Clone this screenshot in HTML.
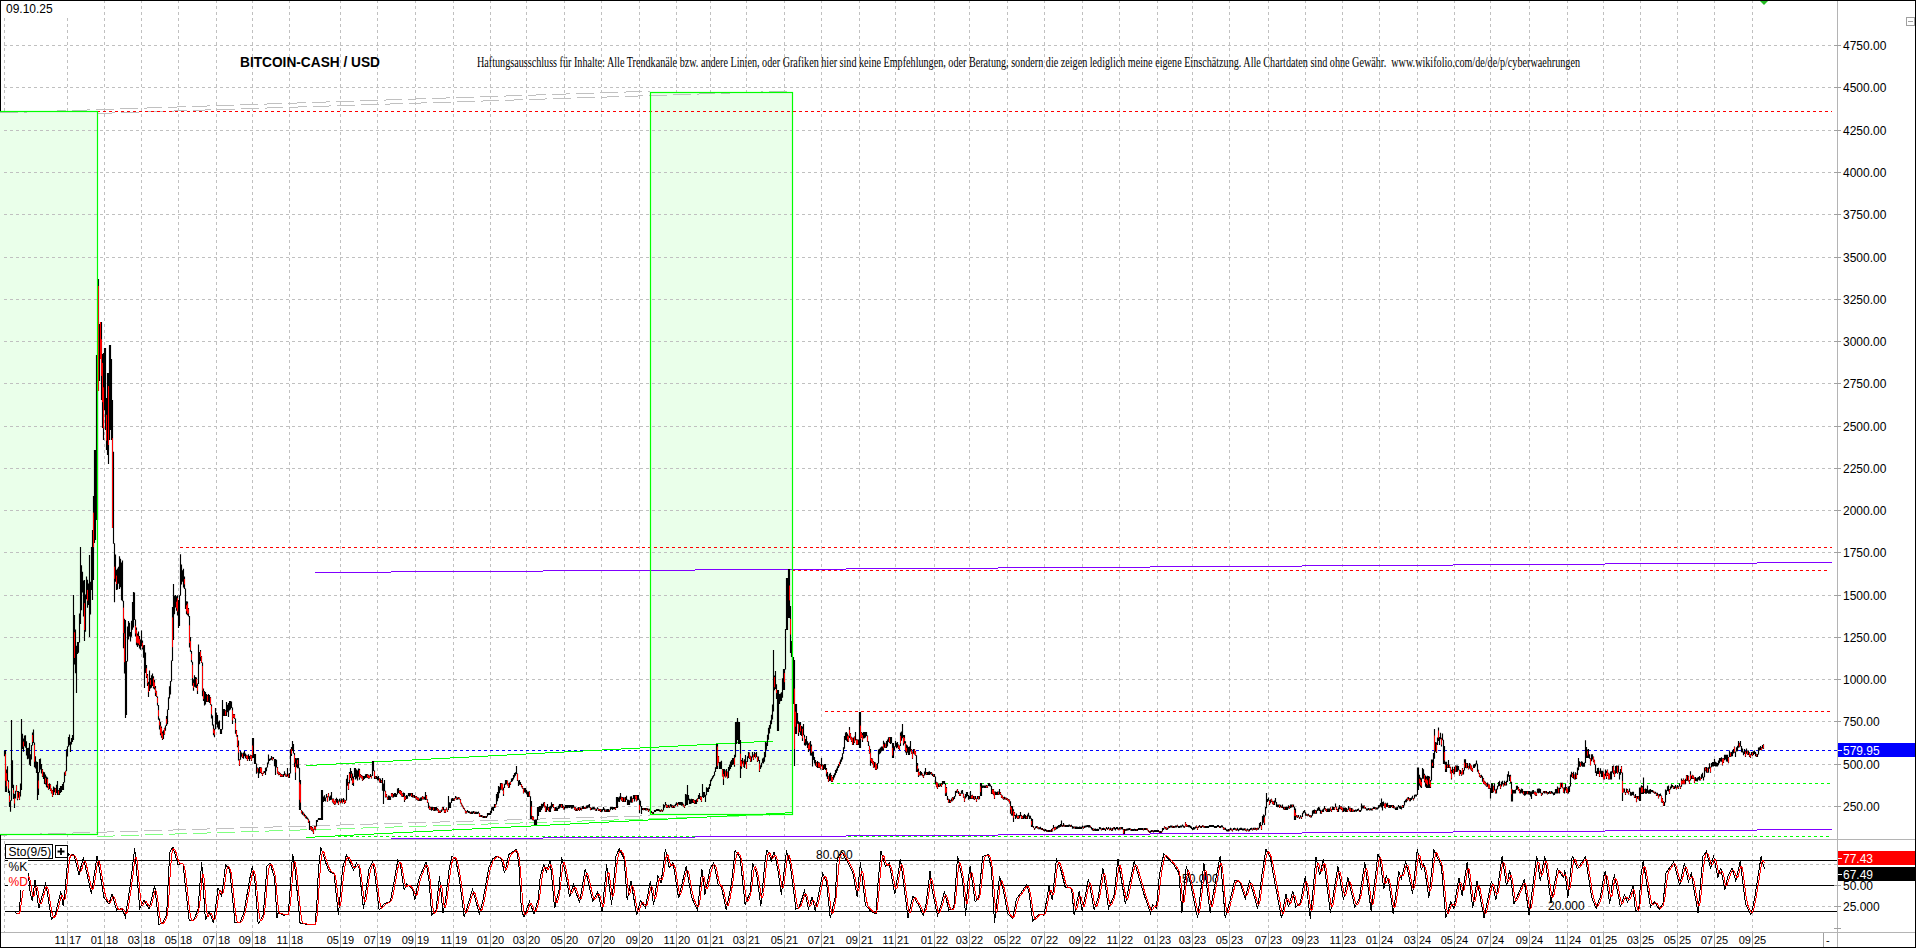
<!DOCTYPE html><html><head><meta charset="utf-8"><style>html,body{margin:0;padding:0;background:#fff;overflow:hidden}svg{display:block}text{font-family:"Liberation Sans",sans-serif}</style></head><body>
<svg width="1916" height="948" viewBox="0 0 1916 948">
<rect x="0" y="0" width="1916" height="948" fill="#fff"/>
<rect x="0.5" y="0.5" width="1915" height="947" fill="none" stroke="#000" stroke-width="1"/>
<path d="M4.5,18V839 M67.5,18V839 M104.5,0V839 M141.5,0V839 M178.5,0V839 M216.5,0V839 M252.5,0V839 M289.5,0V839 M340.5,0V839 M377.5,0V839 M415.5,0V839 M453.5,0V839 M490.5,0V839 M526.5,0V839 M564.5,0V839 M601.5,0V839 M639.5,0V839 M676.5,0V839 M710.5,0V839 M746.5,0V839 M784.5,0V839 M821.5,0V839 M859.5,0V839 M895.5,0V839 M934.5,0V839 M969.5,0V839 M1007.5,0V839 M1044.5,0V839 M1082.5,0V839 M1119.5,0V839 M1157.5,0V839 M1192.5,0V839 M1229.5,0V839 M1268.5,0V839 M1305.5,0V839 M1342.5,0V839 M1379.5,0V839 M1417.5,0V839 M1454.5,0V839 M1490.5,0V839 M1529.5,0V839 M1567.5,0V839 M1603.5,0V839 M1640.5,0V839 M1677.5,0V839 M1714.5,0V839 M1752.5,0V839" stroke="#c0c0c0" stroke-width="1" stroke-dasharray="3,3" fill="none" shape-rendering="crispEdges"/>
<rect x="0" y="111" width="97" height="723" fill="#eaffea"/>
<rect x="650" y="92" width="142" height="722" fill="#eaffea"/>
<path d="M4,45.5H1837 M4,87.5H1837 M4,130.5H1837 M4,172.5H1837 M4,214.5H1837 M4,257.5H1837 M4,299.5H1837 M4,341.5H1837 M4,383.5H1837 M4,426.5H1837 M4,468.5H1837 M4,510.5H1837 M4,552.5H1837 M4,595.5H1837 M4,637.5H1837 M4,679.5H1837 M4,721.5H1837 M4,764.5H1837 M4,806.5H1837" stroke="#c0c0c0" stroke-width="1" stroke-dasharray="3,3" fill="none" shape-rendering="crispEdges"/>
<path d="M0,112.5H18M24,112.5H27M27,111.5H42M48,111.5H57M57,110.5H66M72,110.5H87M87,109.5H90M96,109.5H114M120,108.5H138M144,108.5H147M147,107.5H162M168,107.5H177M177,106.5H186M192,106.5H207M207,105.5H210M216,105.5H234M240,104.5H258M264,104.5H267M267,103.5H282M288,103.5H297M297,102.5H306M312,102.5H326M326,101.5H330M336,101.5H354M360,100.5H378M384,100.5H386M386,99.5H402M408,99.5H416M416,98.5H426M432,98.5H446M446,97.5H450M456,97.5H474M480,96.5H498M504,96.5H506M506,95.5H522M528,95.5H536M536,94.5H546M552,94.5H566M566,93.5H570M576,93.5H594M600,92.5H618M624,92.5H626M626,91.5H642M648,91.5H650M97,113.5H112M112,112.5H115M121,112.5H139M145,111.5H163M169,111.5H174M174,110.5H187M193,110.5H205M205,109.5H211M217,109.5H235M241,108.5H259M265,108.5H267M267,107.5H283M289,107.5H298M298,106.5H307M313,106.5H329M329,105.5H331M337,105.5H355M361,104.5H379M385,104.5H390M390,103.5H403M409,103.5H421M421,102.5H427M433,102.5H451M457,101.5H475M481,101.5H483M483,100.5H499M505,100.5H514M514,99.5H523M529,99.5H545M545,98.5H547M553,98.5H571M577,97.5H595M601,97.5H607M607,96.5H619M625,96.5H638M638,95.5H643M649,95.5H667M673,94.5H691M697,94.5H699M699,93.5H715M721,93.5H730M730,92.5H739M745,92.5H761M761,91.5H763M769,91.5H787M0,835.5H7M7,834.5H18M24,834.5H40M40,833.5H42M48,833.5H66M72,833.5H73M73,832.5H90M96,832.5H107M107,831.5H114M120,831.5H138M144,830.5H162M168,830.5H173M173,829.5H186M192,829.5H207M207,828.5H210M216,828.5H234M240,827.5H258M264,827.5H273M273,826.5H282M288,826.5H306M312,825.5H330M336,825.5H340M340,824.5H354M360,824.5H373M373,823.5H378M384,823.5H402M408,822.5H426M432,822.5H440M440,821.5H450M456,821.5H473M473,820.5H474M480,820.5H498M504,820.5H507M507,819.5H522M528,819.5H540M540,818.5H546M552,818.5H570M576,817.5H594M600,817.5H607M607,816.5H618M624,816.5H640M640,815.5H642M648,815.5H650" stroke="#c0c0c0" stroke-width="1" fill="none" shape-rendering="crispEdges"/>
<path d="M97,836.5H113M113,835.5H115M121,835.5H139M145,834.5H163M169,834.5H175M175,833.5H187M193,833.5H207M207,832.5H211M217,832.5H235M241,831.5H259M265,831.5H269M269,830.5H283M289,830.5H300M300,829.5H307M313,829.5H331M337,828.5H355M361,828.5H363M363,827.5H379M385,827.5H394M394,826.5H403M409,826.5H426M426,825.5H427M433,825.5H451M457,824.5H475M481,824.5H488M488,823.5H499M505,823.5H520M520,822.5H523M529,822.5H547M553,821.5H571M577,821.5H582M582,820.5H595M601,820.5H614M614,819.5H619M625,819.5H643M649,818.5H667M673,818.5H676M676,817.5H691M697,817.5H707M707,816.5H715M721,816.5H739M745,815.5H763M769,815.5H770M770,814.5H787" stroke="#80ff80" stroke-width="1" fill="none" shape-rendering="crispEdges"/>
<path d="M97,111.5H1832" stroke="#ff0000" stroke-width="1.2" stroke-dasharray="3,3" shape-rendering="crispEdges"/>
<path d="M180,547.5H1832" stroke="#ff0000" stroke-width="1.2" stroke-dasharray="3,3" shape-rendering="crispEdges"/>
<path d="M792,570.5H1830" stroke="#ff0000" stroke-width="1.2" stroke-dasharray="3,3" shape-rendering="crispEdges"/>
<path d="M825,711.5H1831" stroke="#ff0000" stroke-width="1.2" stroke-dasharray="3,3" shape-rendering="crispEdges"/>
<path d="M4,750.5H1837" stroke="#0000ff" stroke-width="1.2" stroke-dasharray="3,3" shape-rendering="crispEdges"/>
<path d="M831,783.5H1831" stroke="#00ff00" stroke-width="1.2" stroke-dasharray="3,3" shape-rendering="crispEdges"/>
<path d="M338,836.5H1829" stroke="#00ff00" stroke-width="1.2" stroke-dasharray="3,3" shape-rendering="crispEdges"/>
<path d="M306,765.5H317M317,764.5H336M336,763.5H355M355,762.5H374M374,761.5H393M393,760.5H412M412,759.5H431M431,758.5H450M450,757.5H469M469,756.5H488M488,755.5H507M507,754.5H526M526,753.5H545M545,752.5H564M564,751.5H583M583,750.5H602M602,749.5H621M621,748.5H640M640,747.5H659M659,746.5H678M678,745.5H697M697,744.5H716M716,743.5H735M735,742.5H754M754,741.5H773M306,837.5H315M315,836.5H335M335,835.5H354M354,834.5H374M374,833.5H393M393,832.5H413M413,831.5H433M433,830.5H452M452,829.5H472M472,828.5H491M491,827.5H511M511,826.5H531M531,825.5H550M550,824.5H570M570,823.5H589M589,822.5H609M609,821.5H629M629,820.5H648M648,819.5H668M668,818.5H687M687,817.5H707M707,816.5H727M727,815.5H746M746,814.5H766M766,813.5H785M785,812.5H792" stroke="#00ff00" stroke-width="1" fill="none" shape-rendering="crispEdges"/>
<path d="M315,572.5H391M391,571.5H543M543,570.5H695M695,569.5H846M846,568.5H998M998,567.5H1150M1150,566.5H1302M1302,565.5H1453M1453,564.5H1605M1605,563.5H1757M1757,562.5H1832M391,838.5H543M543,837.5H695M695,836.5H846M846,835.5H998M998,834.5H1150M1150,833.5H1302M1302,832.5H1453M1453,831.5H1605M1605,830.5H1757M1757,829.5H1832" stroke="#8000ff" stroke-width="1" fill="none" shape-rendering="crispEdges"/>
<path d="M4.5,750.7V756.3M5.5,750.0V792.0M6.5,769.6V792.0M7.5,766.3V780.8M8.5,780.3V793.1M9.5,790.7V807.0M10.5,800.3V811.7M11.5,720.0V800.8M12.5,760.3V788.0M13.5,784.7V799.0M14.5,794.0V808.0M15.5,790.7V798.5M16.5,785.2V791.6M17.5,791.1V800.2M18.5,791.1V797.8M19.5,792.0V800.0M20.5,783.4V796.5M21.5,719.0V790.0M22.5,733.7V748.9M23.5,738.6V751.8M24.5,735.5V746.2M25.5,735.3V747.7M26.5,741.2V755.6M27.5,748.1V759.3M28.5,747.7V758.8M29.5,742.9V764.8M30.5,754.3V766.1M31.5,745.0V759.4M32.5,732.4V745.5M33.5,729.4V742.9M34.5,742.4V767.3M35.5,756.2V768.5M36.5,761.6V773.1M37.5,762.0V800.0M38.5,772.1V794.9M39.5,758.9V772.6M40.5,758.5V769.4M41.5,764.0V773.5M42.5,769.1V777.0M43.5,771.8V778.9M44.5,772.2V784.0M45.5,774.4V784.4M46.5,776.6V787.3M47.5,777.5V787.7M48.5,783.9V789.7M49.5,783.3V789.0M50.5,784.3V791.1M51.5,788.5V793.5M52.5,790.0V797.0M53.5,786.6V795.0M54.5,787.4V792.3M55.5,788.0V795.0M56.5,784.8V793.0M57.5,781.0V795.0M58.5,790.0V795.0M59.5,788.0V795.0M60.5,786.0V793.0M61.5,786.0V792.0M62.5,784.0V790.0M63.5,782.0V790.0M64.5,772.2V782.5M65.5,770.7V775.7M66.5,749.2V771.2M67.5,746.2V756.6M68.5,736.9V746.7M69.5,734.4V745.2M70.5,741.7V751.9M71.5,738.0V744.6M72.5,735.0V742.0M73.5,595.0V740.0M74.5,615.1V664.5M75.5,629.4V673.2M76.5,645.8V692.9M77.5,641.9V653.9M78.5,642.1V652.7M79.5,613.4V642.6M80.5,547.0V624.0M81.5,565.2V610.3M82.5,571.8V592.4M83.5,580.4V616.5M84.5,580.0V641.0M85.5,594.6V631.7M86.5,576.4V599.3M87.5,579.7V607.8M88.5,583.4V605.1M89.5,555.0V637.0M90.5,581.8V614.4M91.5,547.1V589.9M92.5,530.0V600.0M93.5,496.0V580.0M94.5,450.0V543.0M95.5,450.0V540.0M96.5,355.0V520.0M97.5,355.0V520.0M98.5,279.0V391.0M99.5,324.0V381.0M100.5,322.0V359.0M101.5,322.0V400.0M102.5,354.0V428.0M103.5,353.0V440.0M104.5,348.0V410.0M105.5,348.0V430.0M106.5,398.0V450.0M107.5,373.0V455.0M108.5,373.0V464.0M109.5,345.0V440.0M110.5,345.0V430.0M111.5,359.0V440.0M112.5,400.0V528.0M113.5,451.8V543.8M114.5,543.3V602.2M115.5,554.4V581.7M116.5,569.7V590.0M117.5,568.5V589.4M118.5,566.8V583.7M119.5,556.3V588.9M120.5,558.8V587.3M121.5,562.5V600.2M122.5,560.4V601.2M123.5,600.7V648.2M124.5,618.8V673.5M125.5,620.0V718.0M126.5,660.9V715.1M127.5,626.4V661.4M128.5,620.9V639.5M129.5,622.7V636.6M130.5,632.0V641.5M131.5,620.8V636.8M132.5,601.9V629.8M133.5,592.1V627.6M134.5,592.4V620.1M135.5,619.6V636.4M136.5,627.5V645.2M137.5,633.6V647.1M138.5,631.5V645.6M139.5,636.0V648.4M140.5,639.4V649.8M141.5,630.4V646.2M142.5,640.4V649.6M143.5,645.3V657.7M144.5,645.0V688.0M145.5,652.6V673.1M146.5,664.9V677.9M147.5,674.1V685.9M148.5,681.8V697.0M149.5,670.6V691.1M150.5,678.0V688.4M151.5,675.2V687.8M152.5,673.4V685.9M153.5,676.2V688.4M154.5,680.1V689.5M155.5,686.1V696.1M156.5,690.7V696.9M157.5,696.4V705.5M158.5,705.0V719.8M159.5,718.5V729.5M160.5,722.0V735.3M161.5,726.5V737.7M162.5,731.6V739.9M163.5,730.2V739.1M164.5,727.7V734.8M165.5,725.4V730.8M166.5,716.1V725.9M167.5,709.4V724.3M168.5,697.2V709.9M169.5,686.2V698.4M170.5,681.0V694.6M171.5,660.4V681.5M172.5,607.1V660.9M173.5,584.0V640.0M174.5,595.8V614.3M175.5,595.0V607.6M176.5,596.2V610.7M177.5,595.3V615.4M178.5,599.9V628.0M179.5,595.3V625.9M180.5,554.2V595.8M181.5,564.4V584.5M182.5,570.2V581.8M183.5,568.8V587.5M184.5,576.6V589.0M185.5,588.5V609.1M186.5,601.2V614.3M187.5,601.4V615.3M188.5,608.1V616.5M189.5,616.0V647.5M190.5,637.0V651.7M191.5,650.9V662.2M192.5,661.7V685.8M193.5,679.3V690.7M194.5,675.3V686.8M195.5,677.1V687.5M196.5,677.5V688.0M197.5,683.6V693.9M198.5,644.6V684.1M199.5,651.9V664.3M200.5,650.1V661.1M201.5,656.0V663.1M202.5,662.6V696.2M203.5,688.6V700.9M204.5,690.9V705.4M205.5,692.1V704.5M206.5,694.0V702.0M207.5,694.9V702.0M208.5,694.0V702.0M209.5,695.0V703.0M210.5,697.0V705.0M211.5,704.5V718.4M212.5,715.4V725.6M213.5,724.6V735.3M214.5,728.7V737.2M215.5,708.1V729.2M216.5,712.4V724.5M217.5,715.0V727.5M218.5,721.4V729.5M219.5,720.5V729.3M220.5,729.0V734.0M221.5,729.0V734.0M222.5,700.0V729.5M223.5,709.0V716.0M224.5,708.9V716.0M225.5,710.2V716.0M226.5,702.0V716.0M227.5,704.7V712.2M228.5,703.1V717.0M229.5,701.0V710.6M230.5,701.0V709.6M231.5,701.4V708.0M232.5,707.5V724.0M233.5,714.0V718.1M234.5,714.0V718.9M235.5,718.4V733.8M236.5,730.0V736.5M237.5,735.0V747.3M238.5,740.6V760.4M239.5,759.2V766.0M240.5,751.0V759.7M241.5,752.5V756.7M242.5,753.4V758.0M243.5,752.6V758.8M244.5,751.0V756.3M245.5,753.5V758.3M246.5,754.7V759.0M247.5,755.4V761.0M248.5,754.3V758.9M249.5,755.9V761.0M250.5,754.8V758.8M251.5,755.2V761.0M252.5,738.0V758.0M253.5,738.0V758.0M254.5,754.0V764.0M255.5,754.0V764.0M256.5,763.5V773.8M257.5,767.6V772.6M258.5,768.2V778.0M259.5,767.0V773.4M260.5,767.0V772.9M261.5,767.5V774.0M262.5,772.9V776.0M263.5,771.4V773.8M264.5,771.0V773.1M265.5,767.7V775.0M266.5,767.3V771.2M267.5,762.6V767.5M268.5,754.5V763.8M269.5,758.7V761.0M270.5,758.3V760.3M271.5,756.0V759.7M272.5,757.2V760.4M273.5,757.0V759.0M274.5,759.0V766.2M275.5,759.0V775.0M276.5,759.8V767.4M277.5,766.9V773.7M278.5,771.4V775.2M279.5,772.3V775.0M280.5,773.2V777.0M281.5,774.0V777.0M282.5,774.5V777.0M283.5,774.0V777.0M284.5,771.3V775.2M285.5,773.5V776.4M286.5,774.6V777.0M287.5,768.0V776.4M288.5,773.8V777.8M289.5,773.1V778.0M290.5,749.2V773.6M291.5,746.9V756.0M292.5,741.0V751.0M293.5,743.9V753.4M294.5,752.9V767.0M295.5,758.0V780.0M296.5,758.2V767.3M297.5,758.0V768.2M298.5,758.0V768.3M299.5,767.8V810.0M300.5,780.0V810.0M301.5,810.0V813.5M302.5,811.3V814.7M303.5,812.5V815.6M304.5,813.8V816.5M305.5,815.0V818.2M306.5,816.2V818.7M307.5,817.5V819.5M308.5,818.8V823.0M309.5,820.8V829.9M310.5,826.0V829.4M311.5,826.0V830.7M312.5,827.1V831.4M313.5,828.8V834.0M314.5,826.0V829.4M315.5,826.0V830.2M316.5,820.0V826.5M317.5,819.7V822.0M318.5,818.0V820.0M319.5,818.0V820.0M320.5,818.0V820.0M321.5,790.0V820.0M322.5,790.0V820.0M323.5,796.4V802.0M324.5,795.2V801.0M325.5,797.4V801.5M326.5,793.9V797.7M327.5,796.3V801.8M328.5,793.0V797.3M329.5,796.6V800.7M330.5,795.6V800.0M331.5,792.1V799.8M332.5,798.6V802.5M333.5,798.5V803.7M334.5,800.7V805.0M335.5,799.1V804.4M336.5,797.8V802.5M337.5,798.9V803.3M338.5,800.5V805.0M339.5,798.8V801.8M340.5,800.4V803.4M341.5,798.5V802.5M342.5,799.2V803.6M343.5,798.0V801.9M344.5,799.5V804.0M345.5,800.0V803.1M346.5,778.7V800.5M347.5,774.9V785.8M348.5,782.1V790.0M349.5,772.0V783.4M350.5,768.0V778.0M351.5,770.9V780.4M352.5,773.5V784.9M353.5,776.6V786.0M354.5,768.0V777.1M355.5,768.0V779.6M356.5,769.5V778.5M357.5,770.4V780.4M358.5,768.5V776.7M359.5,768.7V779.7M360.5,774.0V777.5M361.5,775.1V778.6M362.5,775.8V781.0M363.5,776.1V779.9M364.5,775.9V778.9M365.5,774.3V778.1M366.5,774.0V777.8M367.5,774.0V778.0M368.5,774.8V778.7M369.5,775.4V778.6M370.5,774.0V777.1M371.5,775.6V778.6M372.5,761.0V776.1M373.5,761.0V771.0M374.5,770.5V778.9M375.5,776.0V778.9M376.5,776.0V778.9M377.5,776.8V780.3M378.5,776.0V780.5M379.5,778.2V782.4M380.5,778.5V783.0M381.5,779.9V783.0M382.5,778.0V790.7M383.5,783.6V804.0M384.5,779.9V791.2M385.5,790.7V797.4M386.5,794.0V797.3M387.5,796.7V799.8M388.5,795.6V800.0M389.5,795.8V800.0M390.5,796.6V800.0M391.5,793.0V796.8M392.5,793.0V797.5M393.5,794.0V797.5M394.5,793.0V796.8M395.5,793.0V797.1M396.5,794.1V797.0M397.5,788.5V794.6M398.5,788.0V793.1M399.5,790.2V793.8M400.5,790.1V794.7M401.5,790.9V796.5M402.5,793.3V796.9M403.5,792.6V797.0M404.5,793.0V802.0M405.5,796.2V800.0M406.5,795.0V798.9M407.5,795.5V798.8M408.5,793.0V796.0M409.5,793.0V796.5M410.5,793.0V795.8M411.5,793.0V796.9M412.5,793.0V797.4M413.5,795.0V797.5M414.5,795.0V798.0M415.5,795.9V798.3M416.5,796.0V799.8M417.5,797.2V800.4M418.5,797.4V801.0M419.5,798.5V801.0M420.5,797.4V801.0M421.5,797.3V800.8M422.5,796.0V799.5M423.5,796.8V799.5M424.5,796.7V799.6M425.5,792.0V800.0M426.5,795.0V799.7M427.5,799.3V803.1M428.5,802.6V808.3M429.5,805.8V809.7M430.5,807.0V809.8M431.5,807.0V810.8M432.5,807.0V809.9M433.5,807.0V810.8M434.5,807.0V810.9M435.5,807.0V810.7M436.5,807.0V810.5M437.5,807.9V810.8M438.5,809.2V813.0M439.5,810.6V813.0M440.5,810.4V813.0M441.5,809.6V812.0M442.5,807.0V810.5M443.5,807.0V810.3M444.5,809.3V813.0M445.5,809.3V813.0M446.5,807.6V810.3M447.5,809.6V812.1M448.5,796.0V810.1M449.5,802.3V808.0M450.5,802.6V808.0M451.5,798.5V803.1M452.5,798.1V801.0M453.5,798.6V801.0M454.5,798.0V800.8M455.5,796.0V798.5M456.5,796.8V799.7M457.5,797.6V799.8M458.5,797.1V799.3M459.5,797.4V799.6M460.5,799.1V803.6M461.5,802.8V805.6M462.5,804.7V807.3M463.5,806.5V809.0M464.5,808.3V810.3M465.5,810.2V813.5M466.5,811.0V813.4M467.5,810.0V812.2M468.5,810.9V812.9M469.5,811.2V813.2M470.5,811.9V814.0M471.5,811.5V814.0M472.5,811.6V814.0M473.5,811.1V813.3M474.5,811.6V814.0M475.5,811.7V814.0M476.5,811.8V814.0M477.5,811.9V814.0M478.5,811.4V813.4M479.5,812.9V817.0M480.5,815.0V817.0M481.5,815.0V817.0M482.5,815.5V817.5M483.5,816.0V818.0M484.5,816.0V818.0M485.5,816.0V818.0M486.5,816.0V818.0M487.5,813.0V816.5M488.5,812.9V815.0M489.5,812.9V815.0M490.5,811.0V815.0M491.5,807.4V813.2M492.5,807.1V810.3M493.5,806.7V811.0M494.5,804.0V808.0M495.5,804.0V807.6M496.5,793.9V804.5M497.5,792.1V801.3M498.5,786.0V798.2M499.5,786.7V793.3M500.5,783.0V790.3M501.5,783.0V789.5M502.5,783.4V790.4M503.5,787.4V796.0M504.5,783.7V788.0M505.5,780.1V784.7M506.5,780.0V784.3M507.5,780.5V785.6M508.5,783.3V788.0M509.5,782.5V787.7M510.5,781.5V785.0M511.5,778.5V782.1M512.5,777.9V781.3M513.5,775.1V779.4M514.5,773.0V777.6M515.5,772.2V775.7M516.5,766.0V773.9M517.5,773.4V780.9M518.5,780.4V785.9M519.5,780.0V784.7M520.5,782.0V785.1M521.5,784.0V787.3M522.5,786.0V788.8M523.5,788.3V793.6M524.5,788.0V792.2M525.5,788.0V792.7M526.5,789.8V794.2M527.5,791.5V797.0M528.5,791.6V797.0M529.5,791.3V796.7M530.5,796.2V819.0M531.5,801.0V819.0M532.5,816.0V820.2M533.5,816.6V820.5M534.5,820.0V825.0M535.5,819.6V825.0M536.5,819.6V825.0M537.5,807.0V820.1M538.5,807.0V816.0M539.5,805.9V812.0M540.5,806.1V812.0M541.5,803.8V810.0M542.5,803.9V808.2M543.5,802.4V806.5M544.5,802.0V807.4M545.5,805.8V812.0M546.5,806.5V811.9M547.5,803.9V810.0M548.5,807.1V811.3M549.5,806.4V812.0M550.5,805.7V812.0M551.5,802.2V808.6M552.5,804.0V806.9M553.5,804.0V807.9M554.5,807.4V811.0M555.5,806.9V811.0M556.5,807.2V811.0M557.5,807.7V811.0M558.5,805.8V809.1M559.5,804.0V808.5M560.5,804.0V807.4M561.5,804.0V807.8M562.5,804.0V808.1M563.5,805.8V809.6M564.5,806.7V809.8M565.5,805.0V808.3M566.5,805.0V808.3M567.5,805.0V808.3M568.5,805.0V807.7M569.5,805.0V808.1M570.5,805.0V807.5M571.5,805.0V808.8M572.5,805.0V808.6M573.5,805.0V807.8M574.5,806.7V809.7M575.5,807.2V811.0M576.5,808.4V811.0M577.5,807.7V811.0M578.5,806.9V809.9M579.5,807.2V811.0M580.5,807.6V810.1M581.5,807.7V810.4M582.5,806.1V809.0M583.5,805.8V809.0M584.5,807.0V809.0M585.5,806.7V809.0M586.5,805.4V808.4M587.5,805.3V808.3M588.5,804.7V807.6M589.5,804.0V807.7M590.5,807.2V810.2M591.5,807.7V810.0M592.5,807.3V809.6M593.5,807.0V809.5M594.5,807.2V809.4M595.5,808.4V810.7M596.5,808.8V811.0M597.5,807.3V809.3M598.5,808.5V810.9M599.5,809.0V811.0M600.5,809.0V812.0M601.5,809.2V812.0M602.5,809.0V811.4M603.5,807.0V810.1M604.5,808.6V811.7M605.5,809.6V812.0M606.5,809.3V812.0M607.5,808.9V812.0M608.5,808.9V812.0M609.5,809.7V812.0M610.5,807.1V810.2M611.5,807.0V809.1M612.5,807.0V809.9M613.5,807.0V809.3M614.5,807.0V809.3M615.5,807.1V810.0M616.5,797.0V808.0M617.5,797.0V808.0M618.5,797.5V801.7M619.5,796.4V802.0M620.5,793.0V799.5M621.5,796.8V800.8M622.5,797.1V802.0M623.5,797.2V802.0M624.5,797.6V802.0M625.5,797.0V802.0M626.5,795.8V800.1M627.5,799.6V805.0M628.5,799.8V805.0M629.5,800.3V805.0M630.5,796.6V802.5M631.5,796.3V802.7M632.5,798.2V802.6M633.5,795.0V799.1M634.5,795.0V801.4M635.5,795.0V799.2M636.5,795.0V801.4M637.5,795.0V800.4M638.5,795.0V800.0M639.5,799.5V813.3M640.5,800.7V806.5M641.5,806.0V814.0M642.5,808.0V810.0M643.5,808.0V810.3M644.5,808.0V810.0M645.5,808.0V810.5M646.5,808.0V810.4M647.5,808.2V810.2M648.5,808.8V812.0M649.5,808.7V810.7M650.5,810.2V813.0M651.5,811.0V813.0M652.5,812.0V814.0M653.5,812.0V814.0M654.5,810.0V812.0M655.5,810.0V812.0M656.5,809.1V811.1M657.5,809.0V811.0M658.5,809.0V811.0M659.5,809.4V811.4M660.5,810.0V812.0M661.5,809.2V811.2M662.5,810.0V812.0M663.5,804.3V810.5M664.5,804.9V807.7M665.5,802.0V805.4M666.5,804.2V808.0M667.5,805.2V808.0M668.5,804.8V807.6M669.5,805.6V808.0M670.5,804.0V806.4M671.5,804.4V807.6M672.5,805.3V808.0M673.5,805.4V808.0M674.5,805.3V808.0M675.5,803.8V806.3M676.5,802.3V805.0M677.5,802.9V806.3M678.5,802.0V804.5M679.5,802.0V805.0M680.5,802.0V804.9M681.5,802.0V805.7M682.5,802.3V805.4M683.5,803.8V806.6M684.5,805.4V808.0M685.5,794.0V805.9M686.5,794.4V805.0M687.5,785.0V805.0M688.5,795.0V800.2M689.5,798.7V804.0M690.5,799.3V804.0M691.5,798.7V803.5M692.5,798.9V803.0M693.5,799.0V802.9M694.5,800.2V804.0M695.5,800.0V804.0M696.5,799.2V804.0M697.5,798.2V802.0M698.5,795.0V798.9M699.5,793.0V799.1M700.5,796.1V800.0M701.5,796.5V802.0M702.5,784.0V797.0M703.5,792.0V798.1M704.5,792.0V797.0M705.5,794.7V802.0M706.5,787.2V795.2M707.5,787.9V792.0M708.5,787.2V792.0M709.5,784.0V789.0M710.5,779.8V786.1M711.5,778.2V781.2M712.5,776.3V779.3M713.5,775.1V777.5M714.5,771.6V775.7M715.5,767.2V772.1M716.5,744.0V769.0M717.5,744.0V769.0M718.5,756.0V763.3M719.5,762.0V769.0M720.5,761.8V769.0M721.5,760.7V769.0M722.5,769.0V776.6M723.5,769.0V785.0M724.5,769.0V776.5M725.5,770.5V777.4M726.5,769.0V776.6M727.5,771.6V778.4M728.5,767.1V778.0M729.5,764.6V770.8M730.5,761.6V768.9M731.5,759.9V766.9M732.5,758.1V765.1M733.5,758.1V764.5M734.5,754.7V766.8M735.5,722.0V757.2M736.5,722.0V744.0M737.5,718.0V740.0M738.5,722.0V744.0M739.5,722.0V744.0M740.5,740.0V778.0M741.5,760.0V768.7M742.5,758.0V763.8M743.5,760.8V766.8M744.5,759.2V768.1M745.5,755.0V764.6M746.5,761.2V769.0M747.5,756.2V762.0M748.5,752.0V757.9M749.5,752.6V758.9M750.5,755.8V762.0M751.5,756.4V761.7M752.5,752.0V757.4M753.5,754.5V760.1M754.5,752.0V757.1M755.5,753.3V758.3M756.5,752.0V757.0M757.5,756.6V761.9M758.5,756.4V760.9M759.5,760.0V772.0M760.5,765.2V769.0M761.5,762.8V767.2M762.5,758.4V763.3M763.5,757.6V763.6M764.5,752.0V761.8M765.5,742.0V757.2M766.5,742.6V749.7M767.5,734.7V746.1M768.5,727.8V739.8M769.5,725.0V733.4M770.5,720.4V728.8M771.5,714.7V724.2M772.5,704.4V719.6M773.5,650.0V711.6M774.5,675.4V690.3M775.5,671.0V689.0M776.5,684.2V699.0M777.5,690.0V731.0M778.5,690.0V731.0M779.5,694.0V704.0M780.5,693.5V701.3M781.5,692.3V701.0M782.5,678.2V697.8M783.5,669.0V690.0M784.5,669.0V690.0M785.5,629.0V669.5M786.5,578.0V630.0M787.5,578.0V630.0M788.5,569.0V618.0M789.5,569.0V618.0M790.5,606.0V653.0M791.5,641.0V657.0M792.5,657.0V704.0M793.5,657.0V704.0M794.5,660.0V766.0M795.5,704.0V734.0M796.5,704.0V734.0M797.5,713.0V723.7M798.5,721.3V736.0M799.5,722.3V732.2M800.5,722.0V734.9M801.5,725.9V735.9M802.5,726.4V741.0M803.5,724.1V735.3M804.5,734.8V745.3M805.5,739.0V745.8M806.5,736.0V744.7M807.5,741.3V747.9M808.5,743.3V752.0M809.5,742.6V750.0M810.5,741.0V755.4M811.5,744.5V755.8M812.5,751.4V766.5M813.5,751.5V759.9M814.5,757.0V763.4M815.5,760.1V765.8M816.5,761.9V767.0M817.5,760.9V768.0M818.5,762.1V768.0M819.5,762.5V768.0M820.5,764.2V769.4M821.5,758.0V766.5M822.5,764.5V770.0M823.5,764.7V770.0M824.5,764.0V769.1M825.5,763.9V770.0M826.5,768.0V776.4M827.5,772.0V779.0M828.5,775.7V782.0M829.5,773.7V780.9M830.5,772.7V780.8M831.5,775.1V782.0M832.5,777.0V782.0M833.5,775.0V779.8M834.5,773.2V777.5M835.5,770.1V775.2M836.5,768.4V773.0M837.5,766.2V770.8M838.5,764.0V768.0M839.5,761.7V766.2M840.5,759.4V764.0M841.5,757.2V761.8M842.5,753.3V759.5M843.5,747.3V753.8M844.5,735.9V748.7M845.5,732.5V740.1M846.5,732.1V740.7M847.5,733.6V742.0M848.5,735.6V742.0M849.5,727.0V738.0M850.5,732.9V739.5M851.5,736.7V742.0M852.5,737.7V745.0M853.5,737.5V745.0M854.5,736.5V743.1M855.5,732.0V740.4M856.5,738.9V745.0M857.5,739.6V745.0M858.5,739.4V745.0M859.5,712.0V748.0M860.5,712.0V748.0M861.5,732.0V737.7M862.5,733.1V742.0M863.5,732.0V738.4M864.5,732.0V738.3M865.5,732.0V737.6M866.5,732.0V736.1M867.5,735.6V742.1M868.5,741.3V746.1M869.5,745.7V753.7M870.5,748.9V765.7M871.5,758.0V763.0M872.5,758.4V764.4M873.5,760.9V767.8M874.5,761.9V767.4M875.5,762.4V770.0M876.5,764.3V770.0M877.5,762.9V768.7M878.5,749.6V763.4M879.5,748.7V754.2M880.5,747.4V753.3M881.5,746.6V751.5M882.5,746.6V750.8M883.5,740.8V750.8M884.5,742.6V747.8M885.5,743.4V748.0M886.5,740.9V748.0M887.5,739.5V746.6M888.5,737.2V741.9M889.5,737.0V742.9M890.5,737.0V743.9M891.5,737.0V743.2M892.5,743.0V758.0M893.5,743.0V758.0M894.5,746.3V750.0M895.5,741.0V746.8M896.5,742.7V748.2M897.5,742.0V747.4M898.5,744.5V748.9M899.5,745.6V750.0M900.5,732.6V746.1M901.5,731.5V740.7M902.5,724.0V738.2M903.5,735.0V745.5M904.5,735.0V743.8M905.5,741.2V752.6M906.5,744.4V755.0M907.5,745.6V752.7M908.5,746.9V755.0M909.5,746.6V755.0M910.5,741.0V751.5M911.5,749.0V753.8M912.5,751.6V759.0M913.5,749.0V753.7M914.5,749.0V754.4M915.5,750.9V755.7M916.5,755.2V772.0M917.5,763.0V772.0M918.5,768.6V777.0M919.5,772.3V775.6M920.5,771.0V775.5M921.5,771.9V775.3M922.5,773.4V776.2M923.5,775.1V778.0M924.5,771.5V775.6M925.5,768.0V774.4M926.5,772.0V775.0M927.5,772.0V775.0M928.5,771.8V775.0M929.5,771.3V775.0M930.5,772.0V774.3M931.5,772.0V774.7M932.5,773.6V776.1M933.5,774.2V776.9M934.5,774.1V777.0M935.5,776.5V784.5M936.5,781.7V787.2M937.5,782.5V789.0M938.5,783.4V787.0M939.5,784.5V786.9M940.5,783.5V786.2M941.5,783.3V787.0M942.5,781.0V784.7M943.5,781.0V783.7M944.5,781.1V784.0M945.5,783.5V796.0M946.5,787.0V796.0M947.5,796.0V800.1M948.5,798.8V802.8M949.5,799.2V803.0M950.5,800.0V803.0M951.5,798.5V801.6M952.5,797.0V801.3M953.5,797.2V800.2M954.5,796.0V799.1M955.5,791.0V796.5M956.5,790.5V793.0M957.5,789.0V792.6M958.5,791.1V794.0M959.5,792.4V796.0M960.5,793.3V796.0M961.5,790.6V793.8M962.5,790.0V793.7M963.5,793.5V797.7M964.5,796.5V802.0M965.5,794.1V798.5M966.5,792.0V797.2M967.5,792.0V796.0M968.5,794.9V799.7M969.5,795.7V799.0M970.5,791.0V799.0M971.5,795.3V799.0M972.5,794.7V799.0M973.5,796.0V799.2M974.5,796.2V799.9M975.5,796.0V798.9M976.5,798.4V802.0M977.5,796.0V798.9M978.5,796.0V799.5M979.5,796.0V799.2M980.5,783.0V796.0M981.5,783.0V796.0M982.5,785.6V788.0M983.5,785.5V787.8M984.5,785.6V788.0M985.5,785.4V788.0M986.5,785.1V787.8M987.5,785.6V788.0M988.5,783.0V785.9M989.5,783.0V786.2M990.5,784.4V786.5M991.5,786.0V793.9M992.5,789.0V794.1M993.5,789.0V795.2M994.5,791.6V799.0M995.5,791.5V795.0M996.5,792.0V795.0M997.5,791.6V795.0M998.5,791.5V795.0M999.5,789.0V794.5M1000.5,792.0V794.9M1001.5,794.4V798.1M1002.5,795.6V798.6M1003.5,797.0V799.7M1004.5,796.8V799.4M1005.5,797.5V799.5M1006.5,797.8V799.9M1007.5,798.3V800.6M1008.5,798.9V801.6M1009.5,799.4V803.6M1010.5,801.2V813.7M1011.5,806.0V815.5M1012.5,806.0V815.7M1013.5,809.3V822.0M1014.5,812.0V815.9M1015.5,814.9V819.0M1016.5,813.5V817.7M1017.5,815.4V819.0M1018.5,815.3V819.0M1019.5,814.9V818.6M1020.5,812.0V816.2M1021.5,814.9V819.0M1022.5,816.0V818.9M1023.5,815.2V819.0M1024.5,814.1V818.5M1025.5,814.9V819.0M1026.5,815.9V819.0M1027.5,814.5V819.0M1028.5,812.7V816.6M1029.5,815.6V819.0M1030.5,815.7V818.7M1031.5,818.2V827.0M1032.5,819.0V827.0M1033.5,826.0V828.0M1034.5,828.0V830.0M1035.5,826.6V828.6M1036.5,826.0V828.0M1037.5,826.2V828.5M1038.5,827.2V829.2M1039.5,827.2V829.2M1040.5,826.7V829.2M1041.5,828.0V830.0M1042.5,827.9V830.0M1043.5,829.0V831.0M1044.5,829.5V831.5M1045.5,829.0V831.0M1046.5,829.8V831.8M1047.5,830.0V832.0M1048.5,830.0V832.0M1049.5,830.0V832.0M1050.5,830.0V832.0M1051.5,829.1V832.0M1052.5,828.0V831.5M1053.5,824.9V828.5M1054.5,826.9V830.4M1055.5,826.8V829.8M1056.5,826.8V829.3M1057.5,826.1V828.7M1058.5,825.1V827.7M1059.5,825.0V827.6M1060.5,823.9V827.1M1061.5,820.5V826.5M1062.5,825.0V827.0M1063.5,823.0V826.5M1064.5,824.8V826.8M1065.5,825.0V827.0M1066.5,825.0V827.0M1067.5,824.9V827.0M1068.5,824.7V827.0M1069.5,824.6V826.6M1070.5,825.0V827.0M1071.5,824.8V826.8M1072.5,826.1V828.7M1073.5,826.5V828.5M1074.5,826.5V828.5M1075.5,826.6V829.0M1076.5,826.5V829.0M1077.5,826.8V829.0M1078.5,826.9V828.9M1079.5,826.5V829.0M1080.5,826.8V829.0M1081.5,826.7V829.0M1082.5,825.5V827.8M1083.5,826.4V828.7M1084.5,825.7V827.9M1085.5,825.5V827.5M1086.5,825.2V827.3M1087.5,825.0V827.0M1088.5,825.0V827.5M1089.5,825.0V827.4M1090.5,825.8V827.8M1091.5,827.0V829.4M1092.5,828.1V830.6M1093.5,828.5V830.9M1094.5,828.7V830.7M1095.5,828.6V831.0M1096.5,828.9V831.0M1097.5,828.7V831.0M1098.5,828.9V831.0M1099.5,827.0V829.3M1100.5,827.2V829.3M1101.5,828.4V830.4M1102.5,828.0V830.0M1103.5,827.7V830.0M1104.5,827.9V829.9M1105.5,828.8V831.0M1106.5,827.0V829.0M1107.5,828.0V830.0M1108.5,827.0V829.0M1109.5,828.4V830.4M1110.5,827.5V829.9M1111.5,828.4V830.9M1112.5,828.1V830.7M1113.5,827.3V829.3M1114.5,827.0V829.4M1115.5,827.9V830.4M1116.5,827.1V829.1M1117.5,827.0V829.4M1118.5,828.2V830.3M1119.5,827.3V829.5M1120.5,827.2V829.5M1121.5,827.0V829.3M1122.5,827.0V829.4M1123.5,829.0V834.0M1124.5,829.0V834.0M1125.5,829.0V831.0M1126.5,828.7V830.7M1127.5,828.6V830.6M1128.5,828.3V830.3M1129.5,828.0V830.0M1130.5,828.5V830.5M1131.5,829.0V831.0M1132.5,828.9V830.9M1133.5,829.0V831.0M1134.5,828.7V830.7M1135.5,828.9V830.9M1136.5,828.9V830.9M1137.5,829.0V831.0M1138.5,828.0V830.0M1139.5,828.1V830.1M1140.5,828.0V830.0M1141.5,828.0V830.0M1142.5,828.0V830.0M1143.5,828.6V830.6M1144.5,828.0V830.0M1145.5,828.0V830.0M1146.5,828.0V830.0M1147.5,828.5V830.5M1148.5,830.0V832.0M1149.5,831.0V833.0M1150.5,830.7V832.7M1151.5,830.0V832.0M1152.5,830.1V832.1M1153.5,830.5V832.5M1154.5,830.1V832.1M1155.5,830.0V832.0M1156.5,830.0V832.0M1157.5,830.0V832.0M1158.5,830.0V832.0M1159.5,831.0V833.0M1160.5,831.0V833.0M1161.5,831.0V833.0M1162.5,828.0V831.5M1163.5,828.0V830.0M1164.5,826.2V828.5M1165.5,826.9V829.3M1166.5,827.5V830.0M1167.5,827.7V829.7M1168.5,826.0V828.4M1169.5,826.0V828.0M1170.5,825.6V827.6M1171.5,825.4V827.4M1172.5,825.7V827.9M1173.5,826.0V828.0M1174.5,826.0V828.0M1175.5,825.5V827.5M1176.5,825.4V827.4M1177.5,824.8V826.8M1178.5,825.9V827.9M1179.5,826.0V828.0M1180.5,825.5V827.5M1181.5,825.5V827.5M1182.5,824.5V826.5M1183.5,825.6V827.6M1184.5,826.0V828.0M1185.5,822.0V826.5M1186.5,823.9V827.0M1187.5,824.9V827.0M1188.5,825.0V827.2M1189.5,825.0V827.2M1190.5,825.8V828.0M1191.5,826.4V829.0M1192.5,828.0V830.0M1193.5,827.0V829.7M1194.5,827.2V829.5M1195.5,826.5V828.5M1196.5,825.4V828.0M1197.5,827.3V830.0M1198.5,826.0V828.0M1199.5,825.0V827.0M1200.5,826.0V828.0M1201.5,826.0V828.0M1202.5,825.0V827.0M1203.5,825.5V827.5M1204.5,826.0V828.0M1205.5,826.0V828.0M1206.5,826.0V828.0M1207.5,826.0V828.0M1208.5,826.0V828.0M1209.5,825.0V827.0M1210.5,825.0V827.0M1211.5,825.0V827.0M1212.5,825.0V827.0M1213.5,825.0V827.0M1214.5,826.0V828.0M1215.5,826.0V828.0M1216.5,826.0V828.0M1217.5,825.0V827.0M1218.5,825.0V827.0M1219.5,826.0V828.0M1220.5,826.0V828.0M1221.5,825.3V827.3M1222.5,825.4V827.4M1223.5,826.9V829.8M1224.5,827.8V829.8M1225.5,827.7V830.1M1226.5,829.3V831.3M1227.5,829.4V831.4M1228.5,829.1V831.4M1229.5,829.2V831.2M1230.5,827.7V830.0M1231.5,828.6V830.6M1232.5,829.4V831.4M1233.5,828.1V830.1M1234.5,827.7V829.8M1235.5,828.3V830.3M1236.5,828.7V830.7M1237.5,827.8V830.2M1238.5,829.2V831.2M1239.5,828.2V830.2M1240.5,827.7V830.1M1241.5,827.7V829.9M1242.5,828.5V830.5M1243.5,828.5V830.5M1244.5,828.2V830.2M1245.5,828.5V830.8M1246.5,829.4V831.4M1247.5,828.4V830.4M1248.5,829.4V831.4M1249.5,829.1V831.2M1250.5,828.0V830.0M1251.5,827.7V829.7M1252.5,828.6V830.6M1253.5,827.7V829.7M1254.5,827.7V830.0M1255.5,827.7V829.7M1256.5,828.0V830.4M1257.5,827.8V829.8M1258.5,827.8V829.8M1259.5,823.0V828.3M1260.5,822.0V826.3M1261.5,824.9V830.0M1262.5,816.1V825.0M1263.5,814.4V822.8M1264.5,815.2V825.0M1265.5,807.0V815.5M1266.5,793.0V808.2M1267.5,798.9V802.1M1268.5,797.6V800.7M1269.5,800.2V805.0M1270.5,799.6V803.2M1271.5,798.7V802.0M1272.5,800.8V804.3M1273.5,801.3V805.0M1274.5,800.4V805.0M1275.5,797.9V802.4M1276.5,801.9V806.9M1277.5,804.5V807.3M1278.5,804.5V807.1M1279.5,804.5V808.0M1280.5,804.7V807.3M1281.5,805.8V808.1M1282.5,804.5V808.0M1283.5,806.9V809.4M1284.5,806.9V810.0M1285.5,806.7V810.0M1286.5,806.5V810.0M1287.5,806.8V810.0M1288.5,805.2V808.4M1289.5,805.9V808.7M1290.5,804.5V807.9M1291.5,804.5V807.4M1292.5,804.5V807.2M1293.5,804.5V807.3M1294.5,806.8V820.0M1295.5,808.6V820.0M1296.5,815.0V817.2M1297.5,815.4V817.9M1298.5,815.0V817.3M1299.5,816.9V819.0M1300.5,815.2V817.6M1301.5,816.4V818.9M1302.5,812.7V816.9M1303.5,810.9V813.4M1304.5,810.0V812.7M1305.5,812.2V815.7M1306.5,813.7V815.7M1307.5,814.2V816.2M1308.5,813.7V815.8M1309.5,814.9V816.9M1310.5,815.2V817.5M1311.5,815.2V817.5M1312.5,810.5V815.7M1313.5,810.1V813.7M1314.5,809.6V813.7M1315.5,810.1V813.7M1316.5,810.2V813.7M1317.5,808.3V811.1M1318.5,807.0V810.4M1319.5,807.4V811.1M1320.5,809.7V813.7M1321.5,810.5V813.7M1322.5,809.4V812.0M1323.5,808.5V811.9M1324.5,806.0V809.6M1325.5,807.9V810.7M1326.5,808.9V812.0M1327.5,808.5V812.0M1328.5,808.5V812.0M1329.5,808.5V812.0M1330.5,807.2V810.7M1331.5,809.3V812.0M1332.5,806.4V810.0M1333.5,806.8V810.0M1334.5,806.9V810.0M1335.5,803.5V807.3M1336.5,806.7V810.0M1337.5,808.9V811.9M1338.5,807.5V812.0M1339.5,805.0V809.2M1340.5,806.2V809.2M1341.5,806.2V809.9M1342.5,807.4V811.8M1343.5,807.5V812.0M1344.5,807.8V811.2M1345.5,807.6V811.9M1346.5,808.1V811.9M1347.5,809.2V812.0M1348.5,805.9V809.7M1349.5,807.6V811.3M1350.5,807.7V812.0M1351.5,808.1V812.0M1352.5,808.5V812.0M1353.5,809.7V811.7M1354.5,810.0V812.0M1355.5,809.6V811.6M1356.5,809.8V811.8M1357.5,809.0V811.0M1358.5,808.6V810.6M1359.5,810.0V812.0M1360.5,810.0V812.0M1361.5,803.5V810.5M1362.5,805.5V808.6M1363.5,805.6V808.6M1364.5,805.5V808.6M1365.5,807.0V809.0M1366.5,808.5V810.5M1367.5,808.5V810.5M1368.5,808.1V810.1M1369.5,808.5V810.5M1370.5,808.2V810.3M1371.5,808.5V810.5M1372.5,808.3V810.5M1373.5,807.0V809.1M1374.5,807.0V809.0M1375.5,807.3V809.4M1376.5,807.5V809.5M1377.5,807.5V809.5M1378.5,805.2V808.6M1379.5,805.0V807.4M1380.5,803.0V806.5M1381.5,798.5V807.6M1382.5,802.1V810.5M1383.5,801.5V806.0M1384.5,803.4V807.8M1385.5,802.7V808.6M1386.5,803.5V807.1M1387.5,802.8V807.0M1388.5,805.0V807.8M1389.5,805.0V808.1M1390.5,805.0V808.0M1391.5,805.0V807.0M1392.5,805.0V808.1M1393.5,805.0V808.2M1394.5,806.2V808.6M1395.5,807.6V810.0M1396.5,807.2V810.0M1397.5,807.0V810.0M1398.5,805.0V807.3M1399.5,806.0V808.5M1400.5,805.8V809.0M1401.5,806.4V809.4M1402.5,805.0V807.7M1403.5,805.0V808.0M1404.5,801.1V805.5M1405.5,799.8V802.2M1406.5,798.8V802.2M1407.5,797.5V800.8M1408.5,797.1V799.5M1409.5,797.9V801.2M1410.5,797.9V801.3M1411.5,797.4V800.0M1412.5,795.7V798.7M1413.5,798.1V800.4M1414.5,794.7V798.6M1415.5,794.4V796.4M1416.5,794.4V796.4M1417.5,767.5V794.9M1418.5,767.5V790.0M1419.5,774.8V785.8M1420.5,777.6V787.2M1421.5,778.2V788.0M1422.5,768.0V778.7M1423.5,769.3V778.7M1424.5,773.7V782.5M1425.5,775.4V786.8M1426.5,776.4V788.0M1427.5,775.8V788.0M1428.5,775.9V788.0M1429.5,776.6V788.0M1430.5,780.0V788.0M1431.5,759.5V780.5M1432.5,759.5V768.0M1433.5,753.0V768.0M1434.5,729.0V758.8M1435.5,742.1V751.8M1436.5,742.6V753.0M1437.5,737.4V745.0M1438.5,727.6V741.0M1439.5,737.0V745.0M1440.5,732.7V739.3M1441.5,737.7V746.6M1442.5,733.4V740.3M1443.5,739.8V764.0M1444.5,746.0V764.0M1445.5,761.8V772.0M1446.5,761.8V772.0M1447.5,764.3V768.0M1448.5,760.0V768.0M1449.5,764.6V768.0M1450.5,766.8V773.4M1451.5,769.8V779.5M1452.5,766.8V773.0M1453.5,769.0V774.3M1454.5,766.8V774.2M1455.5,765.6V771.8M1456.5,765.6V772.0M1457.5,765.6V771.8M1458.5,765.9V770.2M1459.5,769.8V775.7M1460.5,770.1V774.1M1461.5,771.6V775.7M1462.5,768.0V774.6M1463.5,770.1V774.4M1464.5,759.2V770.6M1465.5,759.2V768.0M1466.5,763.0V768.3M1467.5,763.0V768.0M1468.5,765.7V769.6M1469.5,763.0V768.5M1470.5,763.8V769.4M1471.5,765.5V771.1M1472.5,767.9V772.0M1473.5,764.6V768.0M1474.5,763.9V768.0M1475.5,763.6V766.6M1476.5,760.5V764.2M1477.5,763.7V771.7M1478.5,769.7V773.4M1479.5,773.0V777.1M1480.5,775.2V777.9M1481.5,774.8V777.6M1482.5,776.3V781.7M1483.5,778.0V784.1M1484.5,780.8V784.6M1485.5,781.8V785.4M1486.5,783.2V786.7M1487.5,782.4V786.8M1488.5,783.7V788.8M1489.5,784.5V789.0M1490.5,788.1V798.5M1491.5,783.3V793.0M1492.5,783.3V793.0M1493.5,785.7V792.2M1494.5,783.3V790.5M1495.5,789.6V793.4M1496.5,788.7V793.4M1497.5,785.8V789.6M1498.5,781.9V786.5M1499.5,780.8V786.1M1500.5,784.3V789.0M1501.5,781.7V786.4M1502.5,780.8V784.6M1503.5,783.2V786.6M1504.5,780.8V785.4M1505.5,782.1V785.4M1506.5,780.8V785.5M1507.5,774.3V781.9M1508.5,771.3V776.8M1509.5,774.9V780.9M1510.5,774.8V783.3M1511.5,781.8V801.6M1512.5,789.6V801.6M1513.5,790.1V793.4M1514.5,790.0V793.4M1515.5,789.6V793.4M1516.5,785.8V790.1M1517.5,785.8V789.5M1518.5,786.9V790.8M1519.5,789.0V793.3M1520.5,789.7V793.4M1521.5,788.5V792.8M1522.5,789.0V793.4M1523.5,790.9V794.7M1524.5,790.9V795.8M1525.5,790.9V795.3M1526.5,790.9V794.2M1527.5,790.9V794.3M1528.5,790.9V794.5M1529.5,790.9V794.7M1530.5,791.4V796.6M1531.5,791.5V799.0M1532.5,790.3V794.0M1533.5,789.9V793.8M1534.5,791.5V794.6M1535.5,791.6V795.8M1536.5,792.5V796.0M1537.5,788.7V792.7M1538.5,788.4V793.2M1539.5,788.4V792.8M1540.5,788.9V793.3M1541.5,792.8V796.0M1542.5,792.8V794.8M1543.5,790.9V792.9M1544.5,790.9V793.4M1545.5,790.9V793.3M1546.5,790.9V793.4M1547.5,792.0V794.4M1548.5,792.0V794.0M1549.5,790.9V793.4M1550.5,791.6V794.1M1551.5,791.1V793.6M1552.5,791.7V793.7M1553.5,792.8V795.3M1554.5,792.3V794.9M1555.5,789.0V793.4M1556.5,788.9V793.4M1557.5,786.6V793.4M1558.5,787.8V793.3M1559.5,787.7V793.4M1560.5,782.7V788.9M1561.5,782.7V787.2M1562.5,782.7V788.3M1563.5,787.7V792.8M1564.5,787.2V793.4M1565.5,783.9V790.6M1566.5,787.1V793.0M1567.5,788.4V793.4M1568.5,786.5V793.4M1569.5,786.1V792.0M1570.5,774.5V786.6M1571.5,771.8V776.9M1572.5,773.0V778.0M1573.5,771.7V778.8M1574.5,774.4V779.5M1575.5,772.2V779.5M1576.5,773.5V778.9M1577.5,767.5V775.0M1578.5,758.0V770.3M1579.5,761.3V766.8M1580.5,762.2V766.8M1581.5,761.3V765.8M1582.5,761.7V766.8M1583.5,763.0V766.8M1584.5,762.5V766.8M1585.5,740.3V763.0M1586.5,747.1V758.0M1587.5,749.4V758.0M1588.5,749.1V758.0M1589.5,754.2V758.8M1590.5,758.3V765.6M1591.5,754.2V761.2M1592.5,754.2V759.5M1593.5,756.5V762.2M1594.5,759.7V764.9M1595.5,764.4V773.1M1596.5,771.3V776.0M1597.5,768.0V773.9M1598.5,767.8V773.9M1599.5,770.8V777.0M1600.5,768.2V773.7M1601.5,770.8V777.0M1602.5,770.7V777.0M1603.5,771.6V779.5M1604.5,773.8V779.5M1605.5,769.4V776.2M1606.5,770.7V778.9M1607.5,769.5V775.9M1608.5,772.8V779.5M1609.5,773.7V779.5M1610.5,771.4V779.5M1611.5,771.2V779.5M1612.5,766.0V772.7M1613.5,765.6V774.3M1614.5,770.4V777.1M1615.5,766.1V773.7M1616.5,765.6V773.0M1617.5,765.8V773.7M1618.5,765.6V772.4M1619.5,771.9V779.5M1620.5,769.1V774.8M1621.5,766.1V773.1M1622.5,772.6V801.0M1623.5,788.6V792.5M1624.5,788.6V792.4M1625.5,792.1V795.0M1626.5,788.6V792.6M1627.5,789.1V793.1M1628.5,790.8V794.5M1629.5,788.6V792.0M1630.5,791.7V795.7M1631.5,792.3V795.8M1632.5,791.7V795.1M1633.5,791.7V795.6M1634.5,795.4V798.0M1635.5,794.1V798.0M1636.5,796.0V802.3M1637.5,796.0V798.7M1638.5,796.0V799.5M1639.5,787.5V801.0M1640.5,787.5V801.0M1641.5,785.3V794.0M1642.5,786.0V794.0M1643.5,777.5V794.0M1644.5,789.2V793.0M1645.5,788.5V793.8M1646.5,788.9V793.8M1647.5,785.4V793.1M1648.5,790.3V793.8M1649.5,789.5V793.8M1650.5,789.0V793.8M1651.5,790.0V792.0M1652.5,790.0V792.2M1653.5,790.7V792.7M1654.5,791.7V793.7M1655.5,791.8V793.8M1656.5,792.8V795.9M1657.5,792.8V795.8M1658.5,794.2V798.6M1659.5,793.9V796.5M1660.5,793.5V795.9M1661.5,795.4V802.4M1662.5,798.1V802.9M1663.5,801.0V806.0M1664.5,802.0V806.0M1665.5,789.4V802.5M1666.5,790.2V795.0M1667.5,786.3V790.9M1668.5,785.4V791.5M1669.5,789.1V793.9M1670.5,786.6V789.6M1671.5,784.3V788.2M1672.5,784.9V787.2M1673.5,785.9V789.0M1674.5,786.3V789.1M1675.5,784.9V788.2M1676.5,786.6V789.6M1677.5,785.0V787.7M1678.5,786.3V789.0M1679.5,783.3V786.6M1680.5,786.3V789.0M1681.5,778.6V786.8M1682.5,780.1V784.3M1683.5,778.6V784.3M1684.5,779.9V784.3M1685.5,778.8V784.3M1686.5,775.0V780.9M1687.5,774.9V780.8M1688.5,775.7V781.5M1689.5,779.9V783.9M1690.5,771.2V780.4M1691.5,775.8V779.0M1692.5,774.7V779.0M1693.5,775.6V779.0M1694.5,777.6V783.3M1695.5,777.0V781.1M1696.5,778.3V781.2M1697.5,777.4V781.5M1698.5,777.0V779.8M1699.5,776.0V780.6M1700.5,777.4V780.6M1701.5,774.3V779.0M1702.5,772.7V777.7M1703.5,776.7V780.6M1704.5,767.6V777.2M1705.5,767.0V771.2M1706.5,767.0V772.7M1707.5,767.7V772.7M1708.5,767.3V772.7M1709.5,763.2V768.7M1710.5,766.7V772.7M1711.5,762.9V767.2M1712.5,762.0V766.4M1713.5,761.9V766.4M1714.5,759.0V766.1M1715.5,761.8V766.4M1716.5,762.5V766.4M1717.5,762.9V766.4M1718.5,760.4V765.3M1719.5,758.0V763.3M1720.5,758.0V761.5M1721.5,757.3V761.8M1722.5,758.3V765.4M1723.5,758.0V762.9M1724.5,754.8V760.3M1725.5,754.8V759.6M1726.5,754.8V761.5M1727.5,754.8V761.7M1728.5,757.0V763.2M1729.5,750.5V757.0M1730.5,752.4V757.0M1731.5,752.0V756.6M1732.5,750.5V756.2M1733.5,749.0V753.6M1734.5,746.4V752.8M1735.5,751.5V757.0M1736.5,747.3V751.6M1737.5,745.7V751.2M1738.5,741.0V747.7M1739.5,742.7V747.3M1740.5,741.0V746.6M1741.5,746.1V752.2M1742.5,748.5V752.4M1743.5,751.5V755.3M1744.5,748.9V754.0M1745.5,750.9V757.0M1746.5,748.5V753.8M1747.5,750.6V754.8M1748.5,750.6V755.1M1749.5,752.3V757.0M1750.5,754.3V758.0M1751.5,752.0V755.2M1752.5,752.3V755.9M1753.5,751.2V755.0M1754.5,750.6V754.1M1755.5,752.1V756.2M1756.5,753.8V757.0M1757.5,753.9V757.0M1758.5,747.6V754.4M1759.5,747.2V750.6M1760.5,746.0V750.0M1761.5,747.2V750.6M1762.5,745.0V748.5M1763.5,744.3V749.0" stroke="#000" stroke-width="1.15" fill="none"/>
<path d="M5.5,754.3V780.8M6.5,773.2V786.3M8.5,782.0V788.6M9.5,795.6V802.0M13.5,790.1V793.3M14.5,798.3V803.6M16.5,785.8V791.0M17.5,792.0V799.1M19.5,792.6V799.4M23.5,741.6V746.6M32.5,735.0V742.0M34.5,744.9V761.7M38.5,780.5V788.6M42.5,769.7V776.4M45.5,777.9V783.3M47.5,779.1V786.1M48.5,784.5V789.1M50.5,784.9V790.5M51.5,789.1V792.9M52.5,790.6V796.4M55.5,788.6V794.4M58.5,790.6V794.4M65.5,771.3V775.1M74.5,632.3V658.0M84.5,603.2V630.0M87.5,589.9V600.7M93.5,512.6V547.2M101.5,339.3V375.9M102.5,362.9V402.2M103.5,387.3V428.4M106.5,414.8V440.6M108.5,386.1V445.0M112.5,438.2V478.6M114.5,566.7V578.8M116.5,575.6V584.0M123.5,607.7V633.1M124.5,633.3V662.2M135.5,625.8V633.5M136.5,630.0V642.6M137.5,635.6V643.3M138.5,636.3V643.5M139.5,639.1V645.0M142.5,642.8V647.6M146.5,668.3V676.5M147.5,675.5V683.2M148.5,684.4V692.0M150.5,679.8V684.8M153.5,678.3V686.9M154.5,682.4V687.5M155.5,688.1V692.8M156.5,691.3V696.3M157.5,697.9V702.8M158.5,710.2V716.3M159.5,721.2V725.4M160.5,725.8V733.3M161.5,727.9V736.3M162.5,733.3V738.9M164.5,728.3V734.2M166.5,719.0V723.7M172.5,617.4V647.2M176.5,601.7V608.2M177.5,598.2V611.5M184.5,579.0V584.4M186.5,605.3V611.3M187.5,603.5V613.7M188.5,609.2V613.5M189.5,625.3V642.9M190.5,641.2V649.9M191.5,653.8V660.0M192.5,664.9V678.0M193.5,682.9V687.8M196.5,679.0V684.9M197.5,686.0V690.8M200.5,651.5V657.0M201.5,656.6V662.5M202.5,666.0V690.6M203.5,691.3V698.9M207.5,695.5V701.4M210.5,697.6V704.4M211.5,706.3V714.2M213.5,728.9V733.1M214.5,730.3V734.7M225.5,710.8V715.4M232.5,710.3V720.4M233.5,714.6V717.5M234.5,714.6V718.3M235.5,723.1V730.2M236.5,730.6V735.9M237.5,736.8V745.8M238.5,745.8V752.6M239.5,759.8V765.4M242.5,754.0V757.4M246.5,755.3V758.4M247.5,756.0V760.4M250.5,755.4V758.2M251.5,755.8V760.4M252.5,745.5V755.4M257.5,768.2V772.0M260.5,767.6V772.3M261.5,768.1V773.4M262.5,773.5V775.4M263.5,772.0V773.2M272.5,757.8V759.8M277.5,767.5V773.1M278.5,772.0V774.6M279.5,772.9V774.4M280.5,773.8V776.4M281.5,774.6V776.4M282.5,775.1V776.4M285.5,774.1V775.8M286.5,775.2V776.4M288.5,774.4V777.2M291.5,749.2V753.8M294.5,755.1V762.7M295.5,763.5V772.5M297.5,759.9V764.3M299.5,782.3V799.8M300.5,784.3V802.6M301.5,810.6V812.9M303.5,813.1V815.0M305.5,815.6V817.6M308.5,819.4V822.4M310.5,826.6V828.8M311.5,826.6V830.1M312.5,827.7V830.8M313.5,829.4V833.4M314.5,826.6V828.8M315.5,826.6V829.6M327.5,796.9V801.2M328.5,793.6V796.7M332.5,799.2V801.9M333.5,799.1V803.1M334.5,801.3V804.4M335.5,799.7V803.8M338.5,801.1V804.4M340.5,801.0V802.8M342.5,799.8V803.0M344.5,800.1V803.4M345.5,800.6V802.5M348.5,782.7V789.4M349.5,773.6V779.9M351.5,773.9V777.8M352.5,778.0V783.6M353.5,779.6V782.8M359.5,770.2V777.6M360.5,774.6V776.9M361.5,775.7V778.0M362.5,776.4V780.4M367.5,774.6V777.4M368.5,775.4V778.1M369.5,776.0V778.0M371.5,776.2V778.0M374.5,771.5V776.6M375.5,776.6V778.3M379.5,778.8V781.8M381.5,780.5V782.4M385.5,791.3V796.8M386.5,794.6V796.7M387.5,797.3V799.2M391.5,793.6V796.2M392.5,793.6V796.9M399.5,790.8V793.2M400.5,790.7V794.1M401.5,791.5V795.9M402.5,793.9V796.3M404.5,795.9V800.2M405.5,796.8V799.4M411.5,793.6V796.3M413.5,795.6V796.9M415.5,796.5V797.7M416.5,796.6V799.2M417.5,797.8V799.8M418.5,798.0V800.4M422.5,796.6V798.9M423.5,797.4V798.9M426.5,795.6V799.1M427.5,799.9V802.5M429.5,806.4V809.1M430.5,807.6V809.2M433.5,807.6V810.2M437.5,808.5V810.2M438.5,809.8V812.4M439.5,811.2V812.4M440.5,811.0V812.4M442.5,807.6V809.9M444.5,809.9V812.4M445.5,809.9V812.4M446.5,808.2V809.7M447.5,810.2V811.5M454.5,798.6V800.2M456.5,797.4V799.1M458.5,797.7V798.7M459.5,798.0V799.0M460.5,799.7V803.0M461.5,803.4V805.0M462.5,805.3V806.7M463.5,807.1V808.4M464.5,808.9V809.7M465.5,810.8V812.9M466.5,811.6V812.8M470.5,812.5V813.4M474.5,812.2V813.4M479.5,813.5V816.4M480.5,815.6V816.4M482.5,816.1V816.9M485.5,816.6V817.4M495.5,804.6V807.0M501.5,783.6V788.9M502.5,784.0V789.8M503.5,790.1V794.2M507.5,781.1V785.0M508.5,783.9V787.4M510.5,782.1V784.4M517.5,774.0V780.3M521.5,784.6V786.7M522.5,786.6V788.2M523.5,788.9V793.0M529.5,791.9V796.1M531.5,806.6V815.7M532.5,816.6V819.6M533.5,817.2V819.9M544.5,802.6V806.8M545.5,806.4V811.4M548.5,807.7V810.7M553.5,804.6V807.3M554.5,808.0V810.4M561.5,804.6V807.2M563.5,806.4V809.0M574.5,807.3V809.1M575.5,807.8V810.4M577.5,808.3V810.4M579.5,807.8V810.4M581.5,808.3V809.8M584.5,807.6V808.4M585.5,807.3V808.4M590.5,807.8V809.6M595.5,809.0V810.1M598.5,809.1V810.3M599.5,809.6V810.4M600.5,809.6V811.4M605.5,810.2V811.4M609.5,810.3V811.4M615.5,807.7V809.4M621.5,797.4V800.2M622.5,797.7V801.4M624.5,798.2V801.4M632.5,798.8V802.0M635.5,795.6V798.6M636.5,795.6V800.8M639.5,804.9V810.1M643.5,808.6V809.7M646.5,808.6V809.8M648.5,809.4V811.4M650.5,810.8V812.4M652.5,812.6V813.4M660.5,810.6V811.4M661.5,809.8V810.6M662.5,810.6V811.4M666.5,804.8V807.4M667.5,805.8V807.4M669.5,806.2V807.4M672.5,805.9V807.4M674.5,805.9V807.4M677.5,803.5V805.7M683.5,804.4V806.0M684.5,806.0V807.4M693.5,799.6V802.3M694.5,800.8V803.4M697.5,798.8V801.4M700.5,796.7V799.4M701.5,797.1V801.4M717.5,746.5V765.8M718.5,756.6V762.7M722.5,769.6V776.0M723.5,774.1V779.2M725.5,771.1V776.8M727.5,772.2V777.8M734.5,758.2V765.0M740.5,753.7V766.0M741.5,761.2V766.8M743.5,761.4V766.2M746.5,761.8V768.4M749.5,753.2V758.3M750.5,756.4V761.4M753.5,755.1V759.5M755.5,753.9V757.7M757.5,757.2V761.3M759.5,763.6V770.8M774.5,677.1V687.3M776.5,689.6V693.1M784.5,673.1V682.2M789.5,585.5V600.4M790.5,619.0V634.6M792.5,670.8V685.9M794.5,688.6V749.2M795.5,711.7V726.7M798.5,724.2V732.9M800.5,725.3V731.3M802.5,728.8V738.3M804.5,737.4V742.6M808.5,745.2V749.4M809.5,743.2V749.4M811.5,746.3V752.9M816.5,762.5V766.4M818.5,762.7V767.4M819.5,763.1V767.4M820.5,764.8V768.8M822.5,765.1V769.4M826.5,769.5V773.6M828.5,776.3V781.4M831.5,775.7V781.4M832.5,777.6V781.4M839.5,762.3V765.6M847.5,736.2V739.2M848.5,736.2V741.4M849.5,729.8V736.1M850.5,733.5V738.9M851.5,737.3V741.4M852.5,738.3V744.4M854.5,737.1V742.5M856.5,739.5V744.4M857.5,740.2V744.4M860.5,725.6V738.9M861.5,732.6V737.1M862.5,735.0V740.3M867.5,736.2V741.5M869.5,746.3V753.1M870.5,752.6V760.5M871.5,758.6V762.4M872.5,759.0V763.8M873.5,761.5V767.2M875.5,763.0V769.4M876.5,764.9V769.4M883.5,744.3V748.4M885.5,744.0V747.4M889.5,737.6V742.3M892.5,747.8V755.5M898.5,745.1V748.3M899.5,746.2V749.4M900.5,735.8V743.3M903.5,737.0V743.3M904.5,737.9V741.0M905.5,743.1V750.7M906.5,747.9V751.9M911.5,749.6V753.2M912.5,752.2V758.4M914.5,749.6V753.8M915.5,751.5V755.1M917.5,765.7V769.4M918.5,771.2V775.5M919.5,772.9V775.0M922.5,774.0V775.6M923.5,775.7V777.4M926.5,772.6V774.4M931.5,772.6V774.1M933.5,774.8V776.3M936.5,782.3V786.6M937.5,783.1V788.4M939.5,785.1V786.3M941.5,783.9V786.4M945.5,785.0V793.4M946.5,788.0V792.5M948.5,799.4V802.2M950.5,800.6V802.4M952.5,797.6V800.7M957.5,789.6V792.0M959.5,793.0V795.4M960.5,793.9V795.4M963.5,794.1V797.1M964.5,797.1V801.4M971.5,795.9V798.4M972.5,795.3V798.4M974.5,796.8V799.3M976.5,799.0V801.4M978.5,796.6V798.9M980.5,786.3V792.1M986.5,785.7V787.2M987.5,786.2V787.4M992.5,789.6V793.5M993.5,789.6V794.6M994.5,792.2V798.4M998.5,792.1V794.4M1000.5,792.6V794.3M1001.5,795.0V797.5M1002.5,796.2V798.0M1003.5,797.6V799.1M1005.5,798.1V798.9M1006.5,798.4V799.3M1007.5,798.9V800.0M1008.5,799.5V801.0M1009.5,800.0V803.0M1010.5,806.1V809.5M1011.5,807.6V813.6M1013.5,811.0V817.7M1014.5,812.6V815.3M1017.5,816.0V818.4M1018.5,815.9V818.4M1021.5,815.5V818.4M1022.5,816.6V818.3M1026.5,816.5V818.4M1031.5,821.0V824.8M1033.5,826.6V827.4M1034.5,828.6V829.4M1037.5,826.8V827.9M1038.5,827.8V828.6M1041.5,828.6V829.4M1043.5,829.6V830.4M1047.5,830.6V831.4M1050.5,830.6V831.4M1052.5,828.6V830.9M1054.5,827.5V829.8M1055.5,827.4V829.2M1062.5,825.6V826.4M1064.5,825.4V826.2M1070.5,825.6V826.4M1074.5,827.1V827.9M1083.5,827.0V828.1M1090.5,826.4V827.2M1093.5,829.1V830.3M1101.5,829.0V829.8M1104.5,828.5V829.3M1107.5,828.6V829.4M1109.5,829.0V829.8M1111.5,829.0V830.3M1113.5,827.9V828.7M1118.5,828.8V829.7M1120.5,827.8V828.9M1123.5,829.6V833.4M1125.5,829.6V830.4M1130.5,829.1V829.9M1136.5,829.5V830.3M1143.5,829.2V830.0M1146.5,828.6V829.4M1147.5,829.1V829.9M1148.5,830.6V831.4M1149.5,831.6V832.4M1152.5,830.7V831.5M1159.5,831.6V832.4M1161.5,831.6V832.4M1164.5,826.8V827.9M1165.5,827.5V828.7M1166.5,828.1V829.4M1168.5,826.6V827.8M1172.5,826.3V827.3M1174.5,826.6V827.4M1177.5,825.4V826.2M1184.5,826.6V827.4M1185.5,822.6V825.9M1186.5,824.5V826.4M1187.5,825.5V826.4M1196.5,826.0V827.4M1197.5,827.9V829.4M1198.5,826.6V827.4M1200.5,826.6V827.4M1202.5,825.6V826.4M1203.5,826.1V826.9M1204.5,826.6V827.4M1219.5,826.6V827.4M1223.5,827.5V829.2M1224.5,828.4V829.2M1229.5,829.8V830.6M1231.5,829.2V830.0M1232.5,830.0V830.8M1235.5,828.9V829.7M1236.5,829.3V830.1M1245.5,829.1V830.2M1246.5,830.0V830.8M1248.5,830.0V830.8M1252.5,829.2V830.0M1254.5,828.3V829.4M1256.5,828.6V829.8M1257.5,828.4V829.2M1261.5,825.5V829.4M1264.5,817.3V823.2M1269.5,800.8V804.4M1271.5,799.3V801.4M1272.5,801.4V803.7M1273.5,801.9V804.4M1279.5,805.1V807.4M1281.5,806.4V807.5M1284.5,807.5V809.4M1289.5,806.5V808.1M1292.5,805.1V806.6M1294.5,810.0V815.9M1295.5,812.8V816.0M1296.5,815.6V816.6M1297.5,816.0V817.3M1299.5,817.5V818.4M1301.5,817.0V818.3M1306.5,814.3V815.1M1307.5,814.8V815.6M1309.5,815.5V816.3M1310.5,815.8V816.9M1315.5,810.7V813.1M1321.5,811.1V813.1M1325.5,808.5V810.1M1326.5,809.5V811.4M1330.5,807.8V810.1M1331.5,809.9V811.4M1334.5,807.5V809.4M1336.5,807.3V809.4M1337.5,809.5V811.3M1340.5,806.8V808.6M1341.5,806.8V809.3M1342.5,808.0V811.2M1347.5,809.8V811.4M1349.5,808.2V810.7M1350.5,808.3V811.4M1352.5,809.1V811.4M1353.5,810.3V811.1M1359.5,810.6V811.4M1364.5,806.1V808.0M1365.5,807.6V808.4M1369.5,809.1V809.9M1372.5,808.9V809.9M1375.5,807.9V808.8M1384.5,804.0V807.2M1385.5,803.3V808.0M1388.5,805.6V807.2M1392.5,805.6V807.5M1394.5,806.8V808.0M1402.5,805.6V807.1M1407.5,798.1V800.2M1409.5,798.5V800.6M1413.5,798.7V799.8M1419.5,778.8V783.3M1420.5,779.8V785.3M1421.5,782.0V786.5M1424.5,775.0V780.9M1425.5,779.7V782.7M1426.5,778.7V783.9M1427.5,780.3V785.2M1429.5,778.4V784.2M1430.5,781.7V786.9M1432.5,762.7V766.0M1434.5,735.5V750.5M1436.5,744.5V751.9M1438.5,730.5V738.1M1441.5,738.6V744.7M1444.5,751.9V760.4M1445.5,764.9V769.1M1447.5,764.9V767.4M1449.5,765.2V767.4M1450.5,767.4V772.8M1451.5,771.3V778.5M1453.5,769.6V773.7M1455.5,766.2V771.2M1459.5,770.4V775.1M1461.5,772.2V775.1M1462.5,768.6V774.0M1464.5,762.6V767.4M1466.5,763.6V767.7M1468.5,766.3V769.0M1470.5,764.4V768.8M1471.5,766.1V770.5M1472.5,768.5V771.4M1478.5,770.3V772.8M1479.5,773.6V776.5M1480.5,775.8V777.3M1483.5,778.6V783.5M1484.5,781.4V784.0M1485.5,782.4V784.8M1486.5,783.8V786.1M1488.5,784.3V788.2M1489.5,785.1V788.4M1493.5,786.3V791.6M1495.5,790.2V792.8M1500.5,784.9V788.4M1503.5,783.8V786.0M1505.5,782.7V784.8M1510.5,776.4V781.9M1511.5,788.8V794.2M1518.5,787.5V790.2M1519.5,789.6V792.7M1523.5,791.5V794.1M1527.5,791.5V793.7M1534.5,792.1V794.0M1535.5,792.2V795.2M1536.5,793.1V795.4M1541.5,793.4V795.4M1543.5,791.5V792.3M1545.5,791.5V792.7M1547.5,792.6V793.8M1550.5,792.2V793.5M1558.5,788.4V792.7M1560.5,783.3V788.3M1562.5,783.3V787.7M1563.5,788.3V792.2M1566.5,787.7V792.4M1567.5,789.0V792.8M1572.5,773.6V777.4M1574.5,775.0V778.9M1576.5,774.1V778.3M1580.5,762.8V766.2M1587.5,750.9V755.6M1590.5,758.9V765.0M1593.5,757.1V761.6M1594.5,760.3V764.3M1599.5,771.4V776.4M1603.5,772.2V778.9M1604.5,774.4V778.9M1606.5,772.9V777.3M1607.5,770.1V775.3M1608.5,773.4V778.9M1609.5,774.3V778.9M1613.5,766.6V772.6M1614.5,771.0V776.5M1617.5,766.4V773.1M1621.5,766.7V772.5M1622.5,780.9V793.0M1623.5,789.2V791.9M1625.5,792.7V794.4M1627.5,789.7V792.5M1628.5,791.4V793.9M1634.5,796.0V797.4M1636.5,796.6V801.7M1638.5,796.6V798.9M1641.5,787.5V792.8M1642.5,787.3V792.5M1644.5,789.8V792.4M1653.5,791.3V792.1M1654.5,792.3V793.1M1656.5,793.4V795.3M1658.5,794.8V798.0M1661.5,796.0V801.8M1662.5,798.7V802.3M1663.5,801.6V805.4M1669.5,789.7V793.3M1673.5,786.5V788.4M1676.5,787.2V789.0M1678.5,786.9V788.4M1680.5,786.9V788.4M1681.5,780.5V785.1M1682.5,780.7V783.7M1683.5,779.2V783.7M1684.5,780.5V783.7M1686.5,775.6V780.3M1688.5,776.3V780.9M1689.5,780.5V783.3M1690.5,774.6V779.2M1692.5,775.3V778.4M1693.5,776.2V778.4M1694.5,778.2V782.7M1700.5,778.0V780.0M1705.5,767.6V770.6M1707.5,768.3V772.1M1710.5,767.3V772.1M1722.5,758.9V764.8M1723.5,758.6V762.3M1728.5,757.6V762.6M1730.5,753.0V756.4M1734.5,747.0V752.2M1739.5,743.3V746.7M1745.5,751.5V756.4M1747.5,751.2V754.2M1749.5,752.9V756.4M1750.5,754.9V757.4M1752.5,752.9V755.3M1756.5,754.4V756.4M1761.5,747.8V750.0M1763.5,744.9V748.4M98.5,286V391M100.5,322V359M112.5,440V528" stroke="#ff0000" stroke-width="1" fill="none"/>
<rect x="-1.5" y="111.5" width="99" height="723" fill="none" stroke="#00ff00" stroke-width="1.2"/>
<rect x="650.5" y="92.5" width="142" height="722" fill="none" stroke="#00ff00" stroke-width="1.2"/>
<path d="M4.5,841V932 M67.5,841V932 M104.5,841V932 M141.5,841V932 M178.5,841V932 M216.5,841V932 M252.5,841V932 M289.5,841V932 M340.5,841V932 M377.5,841V932 M415.5,841V932 M453.5,841V932 M490.5,841V932 M526.5,841V932 M564.5,841V932 M601.5,841V932 M639.5,841V932 M676.5,841V932 M710.5,841V932 M746.5,841V932 M784.5,841V932 M821.5,841V932 M859.5,841V932 M895.5,841V932 M934.5,841V932 M969.5,841V932 M1007.5,841V932 M1044.5,841V932 M1082.5,841V932 M1119.5,841V932 M1157.5,841V932 M1192.5,841V932 M1229.5,841V932 M1268.5,841V932 M1305.5,841V932 M1342.5,841V932 M1379.5,841V932 M1417.5,841V932 M1454.5,841V932 M1490.5,841V932 M1529.5,841V932 M1567.5,841V932 M1603.5,841V932 M1640.5,841V932 M1677.5,841V932 M1714.5,841V932 M1752.5,841V932" stroke="#c0c0c0" stroke-width="1" stroke-dasharray="3,3" fill="none" shape-rendering="crispEdges"/>
<path d="M4,864.5H1837" stroke="#c0c0c0" stroke-width="1" stroke-dasharray="3,3" shape-rendering="crispEdges"/>
<path d="M4,906.5H1837" stroke="#c0c0c0" stroke-width="1" stroke-dasharray="3,3" shape-rendering="crispEdges"/>
<text x="816" y="858.5" font-size="12" fill="#000">80.000</text>
<text x="1182" y="883" font-size="12" fill="#000">50.000</text>
<text x="1548" y="909.5" font-size="12" fill="#000">20.000</text>
<path d="M5,860.5H1837" stroke="#000" stroke-width="1" shape-rendering="crispEdges"/>
<path d="M5,885.5H1837" stroke="#000" stroke-width="1" shape-rendering="crispEdges"/>
<path d="M5,911.5H1837" stroke="#000" stroke-width="1" shape-rendering="crispEdges"/>
<polyline points="15.0,912.0 17.0,914.0 19.4,913.0 20.7,889.5 22.8,888.0 25.5,880.0 28.2,873.0 30.0,891.0 32.3,901.4 35.0,880.0 38.8,908.3 45.7,882.6 51.4,919.0 55.0,915.0 60.8,891.4 63.3,906.4 65.0,890.0 68.3,853.2 70.8,855.7 73.9,854.4 78.9,875.0 83.3,857.5 91.4,893.9 97.1,855.7 104.0,897.6 109.0,904.0 112.0,893.9 116.5,910.2 122.1,908.3 125.3,917.0 130.3,885.0 134.7,848.1 139.7,908.3 144.0,900.0 149.0,909.0 154.7,885.7 159.0,924.6 162.8,922.7 166.6,915.0 169.7,852.5 172.9,846.9 177.9,864.4 182.9,863.2 189.2,920.8 193.5,920.2 197.9,910.2 201.7,862.0 205.4,920.2 209.2,911.4 213.6,923.3 218.0,887.6 221.7,897.0 225.5,865.0 229.2,868.8 230.0,872.6 235.0,922.7 240.0,922.7 243.8,912.7 250.0,877.6 252.5,866.3 255.0,882.6 258.2,924.0 263.2,915.2 267.0,866.3 270.1,863.2 274.5,877.6 277.0,917.7 278.2,912.7 283.9,915.2 288.2,914.0 290.1,890.0 292.6,853.8 295.1,870.0 300.1,923.3 305.2,924.0 315.2,924.6 317.0,900.0 318.3,871.3 320.8,846.9 325.2,861.3 329.0,871.3 334.0,873.8 338.4,915.2 342.7,867.6 346.5,854.8 353.4,870.0 356.5,863.2 359.0,867.6 363.4,908.9 369.0,868.8 372.8,861.3 375.3,877.6 379.1,910.2 384.1,903.9 390.3,901.4 394.1,881.3 397.9,859.4 400.4,865.0 404.1,890.1 406.6,883.8 412.9,890.1 414.8,900.1 418.5,880.1 426.0,861.9 429.2,882.6 431.7,915.2 436.1,910.2 439.5,876.3 443.0,913.3 445.5,900.1 449.2,868.8 451.7,856.3 455.5,858.8 459.2,877.6 464.2,917.0 469.3,900.1 472.5,889.5 479.4,913.9 482.5,902.6 488.8,867.6 492.6,858.8 496.3,856.3 501.3,858.8 504.5,873.2 508.9,854.4 516.4,849.4 518.9,865.0 521.4,910.2 523.9,917.0 529.5,901.4 533.9,913.9 538.3,898.9 540.2,876.3 543.9,864.4 546.4,872.0 550.2,860.7 554.6,908.3 559.0,890.1 561.5,857.5 564.6,868.8 569.6,897.0 573.4,884.5 575.9,892.6 579.6,902.0 585.3,868.8 591.5,896.4 592.8,901.4 597.8,892.0 602.2,912.0 606.6,864.4 611.6,904.5 616.0,856.3 619.1,848.8 624.1,858.8 627.2,900.1 631.0,881.3 636.6,915.2 640.4,900.8 645.4,907.6 650.4,880.7 653.5,905.1 657.9,875.7 661.1,882.6 665.4,849.4 669.2,867.6 673.0,862.5 678.6,898.3 686.1,866.3 691.7,897.6 697.5,910.2 701.9,868.8 705.0,894.5 710.0,868.8 713.8,862.5 718.2,885.1 721.3,886.3 726.3,910.2 731.3,883.8 735.1,850.6 740.1,857.5 745.1,904.5 750.1,892.6 752.6,863.2 756.4,872.6 760.8,905.8 765.2,860.0 767.0,849.8 771.4,860.7 773.9,851.9 777.7,868.8 781.4,894.5 786.5,850.6 790.2,865.0 795.9,908.9 799.0,907.6 804.6,890.7 808.4,908.9 812.1,897.0 815.3,910.8 822.8,873.2 826.5,882.6 830.3,918.3 835.3,896.4 837.2,858.8 841.6,851.9 849.1,865.0 852.8,872.6 857.2,897.0 860.4,862.5 865.4,905.1 870.4,910.8 876.0,913.9 877.9,883.8 881.0,851.5 885.4,866.3 889.2,863.2 894.8,893.9 900.4,858.8 908.0,917.7 913.0,895.7 919.2,906.4 923.1,915.2 926.3,902.6 930.0,871.3 931.9,888.9 937.5,915.8 941.3,903.9 944.4,891.4 948.8,910.2 953.8,908.3 957.6,856.3 962.6,881.3 965.7,915.8 967.6,883.8 970.1,866.3 975.1,902.0 978.9,896.4 982.6,856.3 988.3,854.8 991.4,868.8 994.5,922.7 999.5,876.3 1003.3,890.1 1007.7,913.9 1012.7,918.9 1016.5,898.9 1021.5,892.0 1026.5,884.5 1029.0,892.6 1032.7,920.8 1039.0,913.9 1044.0,915.2 1049.0,886.3 1052.2,900.1 1056.5,858.8 1060.3,867.6 1065.3,887.6 1071.6,888.2 1074.1,915.2 1079.1,891.4 1082.2,911.4 1088.5,878.8 1094.1,909.5 1097.9,898.9 1102.9,868.2 1108.5,908.3 1114.2,895.1 1117.9,858.8 1125.4,903.9 1134.2,861.3 1144.2,895.1 1150.5,913.3 1152.5,904.5 1156.3,908.3 1159.4,875.0 1163.8,853.8 1173.8,865.0 1178.8,872.6 1181.9,912.7 1186.3,865.7 1191.3,887.6 1197.6,918.3 1203.9,863.2 1210.1,912.7 1215.1,883.2 1220.1,856.3 1225.2,917.7 1230.2,900.1 1234.6,880.1 1239.6,882.0 1245.2,898.9 1249.6,880.1 1257.7,908.9 1261.5,877.6 1265.9,849.4 1270.3,857.5 1275.3,885.1 1281.5,918.3 1285.9,893.9 1288.4,907.0 1292.8,891.4 1295.9,907.0 1300.3,902.6 1305.3,876.3 1310.3,918.9 1316.0,857.5 1319.7,875.0 1323.5,859.4 1330.4,912.7 1337.9,866.3 1343.5,900.1 1347.9,877.6 1354.8,907.0 1359.2,898.9 1364.8,862.5 1371.1,910.8 1378.0,854.4 1380.0,858.8 1383.8,888.9 1386.3,875.7 1388.8,882.6 1393.2,913.9 1398.8,871.3 1401.3,878.8 1405.7,861.3 1412.6,893.9 1417.3,849.4 1421.3,869.4 1423.8,863.8 1428.9,897.6 1433.9,850.0 1441.4,866.3 1445.8,917.7 1450.8,902.0 1453.9,908.3 1458.9,877.6 1462.1,895.7 1467.1,862.5 1472.7,907.6 1477.1,880.7 1484.0,917.7 1491.5,880.7 1495.9,899.5 1502.1,856.3 1506.5,886.3 1509.7,870.0 1514.0,903.9 1524.1,880.1 1529.1,915.2 1536.6,855.7 1540.3,880.7 1544.7,855.7 1551.0,902.6 1557.3,868.8 1563.5,877.6 1564.8,870.0 1567.9,897.6 1572.3,855.7 1577.3,868.8 1585.4,856.9 1591.7,897.6 1596.1,908.3 1600.5,896.4 1603.9,875.9 1605.3,870.6 1609.7,904.0 1612.6,880.8 1614.6,875.4 1620.4,907.0 1624.3,894.8 1627.7,902.1 1633.0,886.1 1635.4,910.9 1638.8,908.9 1640.8,876.9 1643.2,860.9 1646.6,882.7 1650.5,907.0 1654.3,901.6 1659.2,909.4 1663.1,903.1 1666.0,873.0 1673.7,861.8 1679.6,885.6 1684.4,862.8 1688.3,881.7 1691.2,873.5 1698.0,912.8 1702.9,856.5 1706.3,851.6 1710.6,868.6 1713.5,855.5 1717.9,876.9 1720.8,867.7 1724.7,890.0 1728.1,875.9 1732.0,868.2 1735.8,880.8 1740.2,861.4 1745.5,904.0 1750.9,914.7 1754.3,900.2 1761.1,856.5 1764.5,869.1" stroke="#000" stroke-width="1" fill="none" shape-rendering="crispEdges"/>
<polyline points="16.5,912.8 17.0,913.0 17.5,913.1 18.0,913.2 18.5,913.4 19.0,913.5 19.5,913.2 20.0,911.6 20.5,908.6 21.0,905.1 21.5,901.6 22.0,898.1 22.5,894.5 23.0,891.1 23.5,888.8 24.0,887.5 24.5,886.6 25.0,885.6 25.5,884.3 26.0,883.0 26.5,881.6 27.0,880.2 27.5,878.8 28.0,877.4 28.5,876.7 29.0,876.8 29.5,877.8 30.0,879.8 30.5,882.2 31.0,885.2 31.5,888.7 32.0,892.1 32.5,894.8 33.0,896.2 33.5,896.3 34.0,895.5 34.5,893.9 35.0,891.4 35.5,889.0 36.0,887.3 36.5,886.6 37.0,887.0 37.5,888.5 38.0,891.2 38.5,894.9 39.0,898.3 39.5,900.9 40.0,902.7 40.5,903.7 41.0,903.9 41.5,903.4 42.0,902.0 42.5,900.1 43.0,898.2 43.5,896.4 44.0,894.5 44.5,892.7 45.0,890.8 45.5,888.9 46.0,887.5 46.5,886.8 47.0,886.8 47.5,887.5 48.0,889.0 48.5,891.2 49.0,894.1 49.5,897.3 50.0,900.5 50.5,903.7 51.0,906.9 51.5,910.0 52.0,912.5 52.5,914.5 53.0,916.0 53.5,916.9 54.0,917.3 54.5,917.2 55.0,916.7 55.5,915.9 56.0,914.9 56.5,913.7 57.0,912.3 57.5,910.7 58.0,908.9 58.5,906.9 59.0,904.8 59.5,902.8 60.0,900.8 60.5,898.7 61.0,897.0 61.5,895.9 62.0,895.6 62.5,896.1 63.0,897.2 63.5,898.6 64.0,899.6 64.5,899.9 65.0,899.1 65.5,897.1 66.0,893.8 66.5,889.4 67.0,884.1 67.5,878.7 68.0,873.3 68.5,868.0 69.0,863.7 69.5,860.2 70.0,857.6 70.5,855.8 71.0,854.9 71.5,854.7 72.0,855.0 72.5,855.1 73.0,855.2 73.5,855.1 74.0,855.1 74.5,855.2 75.0,855.7 75.5,856.6 76.0,857.7 76.5,859.2 77.0,861.0 77.5,863.1 78.0,865.1 78.5,867.2 79.0,869.1 79.5,870.5 80.0,871.3 80.5,871.5 81.0,871.1 81.5,870.2 82.0,868.6 82.5,866.6 83.0,864.7 83.5,862.9 84.0,861.8 84.5,861.2 85.0,861.3 85.5,862.0 86.0,863.3 86.5,865.1 87.0,867.4 87.5,869.6 88.0,871.9 88.5,874.1 89.0,876.4 89.5,878.6 90.0,880.9 90.5,883.1 91.0,885.4 91.5,887.4 92.0,888.7 92.5,889.2 93.0,888.9 93.5,887.8 94.0,885.9 94.5,883.2 95.0,879.8 95.5,876.5 96.0,873.1 96.5,869.8 97.0,866.4 97.5,863.8 98.0,862.1 98.5,861.3 99.0,861.4 99.5,862.4 100.0,864.4 100.5,867.2 101.0,870.3 101.5,873.3 102.0,876.3 102.5,879.4 103.0,882.4 103.5,885.5 104.0,888.5 104.5,891.2 105.0,893.5 105.5,895.5 106.0,897.2 106.5,898.5 107.0,899.5 107.5,900.2 108.0,900.8 108.5,901.4 109.0,902.1 109.5,902.4 110.0,902.4 110.5,902.0 111.0,901.3 111.5,900.3 112.0,898.9 112.5,897.8 113.0,897.1 113.5,896.9 114.0,897.2 114.5,898.0 115.0,899.3 115.5,901.1 116.0,903.0 116.5,904.8 117.0,906.3 117.5,907.5 118.0,908.5 118.5,909.2 119.0,909.6 119.5,909.7 120.0,909.5 120.5,909.4 121.0,909.2 121.5,909.0 122.0,908.8 122.5,908.8 123.0,909.1 123.5,909.5 124.0,910.2 124.5,911.1 125.0,912.1 125.5,913.2 126.0,913.7 126.5,913.4 127.0,912.6 127.5,911.1 128.0,908.9 128.5,906.1 129.0,902.9 129.5,899.7 130.0,896.5 130.5,893.3 131.0,889.9 131.5,886.3 132.0,882.6 132.5,878.8 133.0,874.9 133.5,870.7 134.0,866.6 134.5,862.4 135.0,859.0 135.5,857.2 136.0,856.8 136.5,857.8 137.0,860.4 137.5,864.3 138.0,869.8 138.5,875.8 139.0,881.8 139.5,887.8 140.0,893.3 140.5,897.7 141.0,901.1 141.5,903.5 142.0,905.0 142.5,905.4 143.0,904.8 143.5,903.9 144.0,902.9 144.5,902.2 145.0,901.8 145.5,901.6 146.0,901.7 146.5,902.1 147.0,902.7 147.5,903.6 148.0,904.5 148.5,905.4 149.0,906.3 149.5,906.8 150.0,906.8 150.5,906.5 151.0,905.7 151.5,904.5 152.0,902.9 152.5,900.8 153.0,898.8 153.5,896.7 154.0,894.7 154.5,892.6 155.0,891.2 155.5,890.6 156.0,891.0 156.5,892.4 157.0,894.6 157.5,897.8 158.0,902.0 158.5,906.5 159.0,911.0 159.5,914.9 160.0,918.0 160.5,920.5 161.0,922.3 161.5,923.4 162.0,923.9 162.5,923.6 163.0,923.3 163.5,922.9 164.0,922.4 164.5,921.8 165.0,921.0 165.5,920.2 166.0,919.3 166.5,918.2 167.0,916.2 167.5,912.8 168.0,908.2 168.5,902.3 169.0,895.0 169.5,886.5 170.0,877.5 170.5,869.5 171.0,862.8 171.5,857.5 172.0,853.5 172.5,850.8 173.0,849.4 173.5,849.0 174.0,848.9 174.5,849.3 175.0,850.0 175.5,851.1 176.0,852.5 176.5,854.2 177.0,856.0 177.5,857.8 178.0,859.4 178.5,860.9 179.0,862.0 179.5,862.9 180.0,863.6 180.5,863.9 181.0,864.0 181.5,863.9 182.0,863.8 182.5,863.7 183.0,863.7 183.5,864.4 184.0,865.7 184.5,867.7 185.0,870.4 185.5,873.8 186.0,877.8 186.5,882.4 187.0,887.0 187.5,891.5 188.0,896.1 188.5,900.7 189.0,905.3 189.5,909.4 190.0,912.9 190.5,915.8 191.0,918.0 191.5,919.5 192.0,920.4 192.5,920.5 193.0,920.5 193.5,920.4 194.0,920.2 194.5,919.8 195.0,919.3 195.5,918.6 196.0,917.8 196.5,916.8 197.0,915.7 197.5,914.5 198.0,913.2 198.5,911.2 199.0,908.4 199.5,904.9 200.0,900.7 200.5,895.7 201.0,889.9 201.5,883.6 202.0,878.4 202.5,875.3 203.0,874.3 203.5,875.2 204.0,878.2 204.5,883.3 205.0,890.3 205.5,897.9 206.0,904.2 206.5,909.3 207.0,913.0 207.5,915.5 208.0,916.6 208.5,916.5 209.0,915.3 209.5,914.4 210.0,913.8 210.5,913.6 211.0,913.7 211.5,914.2 212.0,915.1 212.5,916.3 213.0,917.6 213.5,919.0 214.0,919.7 214.5,919.7 215.0,918.9 215.5,917.3 216.0,914.9 216.5,911.8 217.0,907.9 217.5,903.8 218.0,899.8 218.5,896.5 219.0,893.9 219.5,892.2 220.0,891.2 220.5,890.9 221.0,891.4 221.5,892.7 222.0,893.5 222.5,893.5 223.0,892.7 223.5,891.2 224.0,888.9 224.5,885.7 225.0,881.8 225.5,877.6 226.0,874.1 226.5,871.2 227.0,869.0 227.5,867.5 228.0,866.7 228.5,866.5 229.0,867.1 229.5,867.7 230.0,868.7 230.5,870.2 231.0,872.5 231.5,875.3 232.0,878.8 232.5,883.0 233.0,887.6 233.5,892.6 234.0,897.6 234.5,902.7 235.0,907.7 235.5,912.0 236.0,915.5 236.5,918.4 237.0,920.6 237.5,922.0 238.0,922.7 238.5,922.7 239.0,922.7 239.5,922.7 240.0,922.7 240.5,922.5 241.0,922.1 241.5,921.6 242.0,920.8 242.5,919.9 243.0,918.8 243.5,917.4 244.0,916.0 244.5,914.4 245.0,912.6 245.5,910.5 246.0,908.3 246.5,905.8 247.0,903.1 247.5,900.2 248.0,897.4 248.5,894.6 249.0,891.8 249.5,888.9 250.0,886.1 250.5,883.3 251.0,880.7 251.5,878.1 252.0,875.6 252.5,873.2 253.0,871.6 253.5,870.9 254.0,871.0 254.5,871.9 255.0,873.6 255.5,876.5 256.0,880.7 256.5,885.4 257.0,890.4 257.5,896.0 258.0,902.0 258.5,907.8 259.0,912.6 259.5,916.4 260.0,919.1 260.5,920.7 261.0,921.3 261.5,920.8 262.0,920.0 262.5,919.1 263.0,918.2 263.5,916.8 264.0,914.7 264.5,911.7 265.0,908.0 265.5,903.5 266.0,898.2 266.5,892.0 267.0,885.6 267.5,880.0 268.0,875.3 268.5,871.4 269.0,868.3 269.5,866.1 270.0,864.8 270.5,864.5 271.0,864.6 271.5,864.9 272.0,865.6 272.5,866.6 273.0,867.8 273.5,869.4 274.0,871.1 274.5,872.7 275.0,875.2 275.5,878.7 276.0,883.1 276.5,888.4 277.0,894.6 277.5,900.2 278.0,905.4 278.5,909.2 279.0,912.0 279.5,913.7 280.0,914.2 280.5,913.6 281.0,913.4 281.5,913.5 282.0,913.7 282.5,913.9 283.0,914.1 283.5,914.4 284.0,914.6 284.5,914.7 285.0,914.8 285.5,914.9 286.0,914.9 286.5,914.9 287.0,914.8 287.5,914.6 288.0,914.5 288.5,913.8 289.0,912.3 289.5,909.8 290.0,906.5 290.5,902.2 291.0,896.9 291.5,890.6 292.0,883.7 292.5,876.8 293.0,870.9 293.5,866.4 294.0,863.3 294.5,861.8 295.0,861.7 295.5,863.4 296.0,866.9 296.5,871.0 297.0,875.3 297.5,880.0 298.0,885.0 298.5,890.3 299.0,895.6 299.5,900.9 300.0,906.2 300.5,911.0 301.0,914.9 301.5,918.2 302.0,920.6 302.5,922.4 303.0,923.3 303.5,923.6 304.0,923.6 304.5,923.7 305.0,923.8 305.5,923.8 306.0,923.9 306.5,923.9 307.0,924.0 307.5,924.0 308.0,924.1 308.5,924.1 309.0,924.1 309.5,924.2 310.0,924.2 310.5,924.2 311.0,924.3 311.5,924.3 312.0,924.3 312.5,924.3 313.0,924.4 313.5,924.4 314.0,924.4 314.5,924.5 315.0,924.5 315.5,923.9 316.0,922.4 316.5,919.9 317.0,916.4 317.5,911.3 318.0,904.6 318.5,896.7 319.0,888.7 319.5,881.0 320.0,873.6 320.5,866.4 321.0,860.5 321.5,856.4 322.0,853.7 322.5,852.0 323.0,851.2 323.5,851.4 324.0,852.5 324.5,854.1 325.0,855.7 325.5,857.3 326.0,858.9 326.5,860.4 327.0,861.9 327.5,863.3 328.0,864.7 328.5,866.0 329.0,867.4 329.5,868.5 330.0,869.5 330.5,870.4 331.0,871.1 331.5,871.6 332.0,872.0 332.5,872.3 333.0,872.5 333.5,872.8 334.0,873.0 334.5,873.9 335.0,875.5 335.5,877.6 336.0,880.4 336.5,883.8 337.0,887.9 337.5,892.6 338.0,897.3 338.5,901.7 339.0,904.7 339.5,906.2 340.0,906.2 340.5,904.8 341.0,901.9 341.5,897.5 342.0,892.0 342.5,886.4 343.0,881.2 343.5,876.6 344.0,872.5 344.5,868.9 345.0,865.9 345.5,863.4 346.0,861.5 346.5,859.9 347.0,858.6 347.5,857.7 348.0,857.2 348.5,857.1 349.0,857.4 349.5,858.1 350.0,859.2 350.5,860.3 351.0,861.4 351.5,862.5 352.0,863.6 352.5,864.7 353.0,865.8 353.5,866.9 354.0,867.6 354.5,868.0 355.0,868.1 355.5,867.9 356.0,867.3 356.5,866.5 357.0,865.7 357.5,865.1 358.0,864.9 358.5,864.9 359.0,865.2 359.5,866.4 360.0,868.4 360.5,870.9 361.0,873.9 361.5,877.5 362.0,881.7 362.5,886.4 363.0,891.1 363.5,895.5 364.0,898.8 364.5,900.9 365.0,901.8 365.5,901.5 366.0,900.1 366.5,897.4 367.0,893.9 367.5,890.3 368.0,886.7 368.5,883.1 369.0,879.5 369.5,876.3 370.0,873.5 370.5,871.0 371.0,868.9 371.5,867.2 372.0,865.8 372.5,864.9 373.0,864.1 373.5,864.0 374.0,864.4 374.5,865.5 375.0,867.2 375.5,869.5 376.0,872.6 376.5,876.3 377.0,880.0 377.5,883.9 378.0,888.0 378.5,892.2 379.0,896.5 379.5,900.2 380.0,903.2 380.5,905.5 381.0,907.2 381.5,908.1 382.0,908.3 382.5,907.8 383.0,907.2 383.5,906.5 384.0,905.9 384.5,905.3 385.0,904.8 385.5,904.4 386.0,904.0 386.5,903.6 387.0,903.3 387.5,903.1 388.0,902.9 388.5,902.7 389.0,902.5 389.5,902.3 390.0,902.1 390.5,901.8 391.0,901.1 391.5,900.1 392.0,898.7 392.5,896.9 393.0,894.8 393.5,892.4 394.0,889.8 394.5,887.1 395.0,884.4 395.5,881.6 396.0,878.9 396.5,876.1 397.0,873.2 397.5,870.4 398.0,867.6 398.5,865.4 399.0,863.8 399.5,862.7 400.0,862.2 400.5,862.4 401.0,863.4 401.5,865.3 402.0,867.4 402.5,869.9 403.0,872.7 403.5,875.9 404.0,879.2 404.5,882.1 405.0,884.3 405.5,885.8 406.0,886.7 406.5,886.9 407.0,886.6 407.5,886.0 408.0,885.4 408.5,885.1 409.0,885.1 409.5,885.3 410.0,885.7 410.5,886.2 411.0,886.7 411.5,887.2 412.0,887.7 412.5,888.2 413.0,888.8 413.5,889.6 414.0,890.8 414.5,892.3 415.0,893.7 415.5,894.8 416.0,895.3 416.5,895.4 417.0,894.6 417.5,893.2 418.0,890.9 418.5,888.2 419.0,885.7 419.5,883.4 420.0,881.4 420.5,879.5 421.0,877.9 421.5,876.5 422.0,875.2 422.5,874.0 423.0,872.8 423.5,871.6 424.0,870.4 424.5,869.2 425.0,868.0 425.5,866.8 426.0,865.5 426.5,865.0 427.0,865.0 427.5,865.7 428.0,867.0 428.5,869.0 429.0,871.6 429.5,875.1 430.0,879.1 430.5,883.6 431.0,888.5 431.5,893.9 432.0,899.1 432.5,903.8 433.0,907.7 433.5,910.6 434.0,912.5 434.5,913.3 435.0,913.2 435.5,912.6 436.0,912.0 436.5,910.9 437.0,909.2 437.5,906.9 438.0,903.9 438.5,900.3 439.0,896.1 439.5,891.3 440.0,887.7 440.5,885.7 441.0,885.1 441.5,886.0 442.0,888.3 442.5,892.2 443.0,897.4 443.5,901.6 444.0,904.6 444.5,906.5 445.0,907.3 445.5,906.9 446.0,905.2 446.5,902.1 447.0,898.7 447.5,895.2 448.0,891.4 448.5,887.4 449.0,883.2 449.5,879.1 450.0,875.3 450.5,871.7 451.0,868.3 451.5,865.2 452.0,862.6 452.5,860.7 453.0,859.2 453.5,858.2 454.0,857.6 454.5,857.3 455.0,857.5 455.5,857.8 456.0,858.5 456.5,859.4 457.0,860.7 457.5,862.3 458.0,864.2 458.5,866.4 459.0,869.0 459.5,871.6 460.0,874.5 460.5,877.5 461.0,880.8 461.5,884.3 462.0,887.9 462.5,891.8 463.0,895.7 463.5,899.7 464.0,903.6 464.5,907.1 465.0,909.7 465.5,911.6 466.0,912.6 466.5,912.9 467.0,912.4 467.5,911.0 468.0,909.4 468.5,907.7 469.0,906.1 469.5,904.4 470.0,902.8 470.5,901.1 471.0,899.4 471.5,897.8 472.0,896.1 472.5,894.5 473.0,893.3 473.5,892.6 474.0,892.4 474.5,892.7 475.0,893.5 475.5,894.8 476.0,896.6 476.5,898.3 477.0,900.1 477.5,901.9 478.0,903.6 478.5,905.4 479.0,907.2 479.5,908.8 480.0,910.0 480.5,910.6 481.0,910.8 481.5,910.4 482.0,909.5 482.5,908.1 483.0,906.1 483.5,904.0 484.0,901.8 484.5,899.4 485.0,896.9 485.5,894.3 486.0,891.5 486.5,888.7 487.0,885.9 487.5,883.2 488.0,880.4 488.5,877.6 489.0,874.9 489.5,872.5 490.0,870.2 490.5,868.2 491.0,866.5 491.5,865.0 492.0,863.7 492.5,862.5 493.0,861.4 493.5,860.5 494.0,859.7 494.5,859.0 495.0,858.4 495.5,857.9 496.0,857.5 496.5,857.2 497.0,857.0 497.5,856.9 498.0,856.8 498.5,856.8 499.0,857.0 499.5,857.1 500.0,857.4 500.5,857.6 501.0,857.9 501.5,858.3 502.0,858.9 502.5,859.9 503.0,861.1 503.5,862.6 504.0,864.4 504.5,866.4 505.0,868.1 505.5,869.1 506.0,869.4 506.5,869.2 507.0,868.3 507.5,866.8 508.0,864.7 508.5,862.5 509.0,860.4 509.5,858.6 510.0,857.0 510.5,855.7 511.0,854.7 511.5,853.9 512.0,853.3 512.5,853.0 513.0,852.7 513.5,852.3 514.0,852.0 514.5,851.7 515.0,851.3 515.5,851.0 516.0,850.7 516.5,850.4 517.0,850.7 517.5,851.4 518.0,852.7 518.5,854.4 519.0,856.8 519.5,860.6 520.0,865.5 520.5,871.4 521.0,878.0 521.5,885.3 522.0,892.4 522.5,899.0 523.0,904.5 523.5,909.0 524.0,912.2 524.5,914.0 525.0,914.5 525.5,914.6 526.0,914.3 526.5,913.6 527.0,912.5 527.5,911.1 528.0,909.8 528.5,908.4 529.0,907.0 529.5,905.6 530.0,904.6 530.5,904.0 531.0,903.8 531.5,904.0 532.0,904.6 532.5,905.7 533.0,907.1 533.5,908.5 534.0,909.8 534.5,910.7 535.0,911.2 535.5,911.1 536.0,910.7 536.5,909.8 537.0,908.4 537.5,906.7 538.0,905.0 538.5,903.1 539.0,900.5 539.5,897.4 540.0,893.6 540.5,889.6 541.0,885.6 541.5,881.7 542.0,877.9 542.5,874.8 543.0,872.4 543.5,870.5 544.0,869.0 544.5,867.9 545.0,867.3 545.5,867.1 546.0,867.4 546.5,868.0 547.0,868.7 547.5,869.2 548.0,869.4 548.5,869.1 549.0,868.4 549.5,867.2 550.0,865.8 550.5,864.9 551.0,864.9 551.5,866.0 552.0,868.1 552.5,871.1 553.0,875.2 553.5,880.2 554.0,885.6 554.5,891.0 555.0,895.5 555.5,899.0 556.0,901.4 556.5,902.8 557.0,903.1 557.5,902.3 558.0,900.4 558.5,898.4 559.0,896.3 559.5,893.6 560.0,890.3 560.5,886.3 561.0,881.7 561.5,876.4 562.0,871.7 562.5,867.6 563.0,864.7 563.5,862.9 564.0,862.3 564.5,863.0 565.0,864.9 565.5,867.0 566.0,869.2 566.5,871.6 567.0,874.1 567.5,876.7 568.0,879.5 568.5,882.3 569.0,885.2 569.5,888.0 570.0,890.3 570.5,892.0 571.0,893.0 571.5,893.4 572.0,893.1 572.5,892.3 573.0,890.8 573.5,889.2 574.0,888.1 574.5,887.5 575.0,887.3 575.5,887.7 576.0,888.4 576.5,889.6 577.0,891.1 577.5,892.6 578.0,894.0 578.5,895.4 579.0,896.7 579.5,897.9 580.0,898.7 580.5,898.9 581.0,898.5 581.5,897.5 582.0,895.9 582.5,893.7 583.0,890.9 583.5,888.0 584.0,885.1 584.5,882.2 585.0,879.3 585.5,876.7 586.0,874.8 586.5,873.6 587.0,873.2 587.5,873.5 588.0,874.6 588.5,876.4 589.0,878.6 589.5,880.8 590.0,883.0 590.5,885.3 591.0,887.5 591.5,889.7 592.0,891.9 592.5,894.0 593.0,896.0 593.5,897.5 594.0,898.5 594.5,899.1 595.0,899.2 595.5,898.9 596.0,898.2 596.5,897.3 597.0,896.3 597.5,895.4 598.0,894.6 598.5,894.3 599.0,894.5 599.5,895.1 600.0,896.2 600.5,897.7 601.0,899.7 601.5,902.0 602.0,904.3 602.5,905.9 603.0,906.4 603.5,905.8 604.0,904.1 604.5,901.4 605.0,897.5 605.5,892.5 606.0,887.1 606.5,881.7 607.0,877.4 607.5,874.4 608.0,872.7 608.5,872.5 609.0,873.5 609.5,875.9 610.0,879.6 610.5,883.6 611.0,887.7 611.5,891.7 612.0,894.6 612.5,896.2 613.0,896.4 613.5,895.2 614.0,892.7 614.5,888.9 615.0,883.7 615.5,878.2 616.0,872.7 616.5,867.9 617.0,863.6 617.5,860.0 618.0,856.9 618.5,854.5 619.0,852.7 619.5,851.7 620.0,851.1 620.5,850.7 621.0,850.7 621.5,851.0 622.0,851.7 622.5,852.6 623.0,853.6 623.5,854.6 624.0,855.6 624.5,857.2 625.0,859.7 625.5,863.0 626.0,867.0 626.5,871.9 627.0,877.6 627.5,883.3 628.0,887.9 628.5,891.2 629.0,893.1 629.5,893.8 630.0,893.1 630.5,891.2 631.0,888.7 631.5,887.0 632.0,886.1 632.5,886.0 633.0,886.7 633.5,888.1 634.0,890.4 634.5,893.4 635.0,896.4 635.5,899.5 636.0,902.5 636.5,905.5 637.0,908.0 637.5,909.7 638.0,910.8 638.5,911.2 639.0,910.8 639.5,909.8 640.0,908.0 640.5,906.2 641.0,904.7 641.5,903.6 642.0,902.9 642.5,902.6 643.0,902.6 643.5,903.0 644.0,903.7 644.5,904.3 645.0,905.0 645.5,905.6 646.0,905.7 646.5,905.3 647.0,904.5 647.5,903.1 648.0,901.3 648.5,899.0 649.0,896.3 649.5,893.6 650.0,890.9 650.5,888.4 651.0,886.9 651.5,886.3 652.0,886.6 652.5,887.9 653.0,890.1 653.5,893.3 654.0,896.2 654.5,898.0 655.0,898.9 655.5,898.6 656.0,897.4 656.5,895.1 657.0,891.7 657.5,888.4 658.0,885.2 658.5,882.6 659.0,880.6 659.5,879.3 660.0,878.6 660.5,878.6 661.0,879.1 661.5,879.7 662.0,879.5 662.5,878.6 663.0,877.0 663.5,874.7 664.0,871.6 664.5,867.9 665.0,864.1 665.5,860.4 666.0,857.6 666.5,855.7 667.0,854.7 667.5,854.6 668.0,855.4 668.5,857.1 669.0,859.5 669.5,861.6 670.0,863.3 670.5,864.5 671.0,865.4 671.5,865.7 672.0,865.7 672.5,865.2 673.0,864.5 673.5,864.4 674.0,864.8 674.5,865.8 675.0,867.4 675.5,869.4 676.0,872.1 676.5,875.3 677.0,878.5 677.5,881.7 678.0,884.9 678.5,888.1 679.0,890.7 679.5,892.5 680.0,893.5 680.5,893.9 681.0,893.4 681.5,892.2 682.0,890.2 682.5,888.1 683.0,885.9 683.5,883.8 684.0,881.7 684.5,879.5 685.0,877.4 685.5,875.3 686.0,873.1 686.5,871.6 687.0,870.7 687.5,870.5 688.0,871.1 688.5,872.3 689.0,874.3 689.5,876.9 690.0,879.7 690.5,882.5 691.0,885.3 691.5,888.1 692.0,890.7 692.5,893.2 693.0,895.3 693.5,897.2 694.0,898.9 694.5,900.3 695.0,901.5 695.5,902.6 696.0,903.7 696.5,904.8 697.0,905.9 697.5,906.9 698.0,907.2 698.5,906.6 699.0,905.2 699.5,903.0 700.0,900.0 700.5,896.1 701.0,891.4 701.5,886.7 702.0,882.2 702.5,879.0 703.0,877.1 703.5,876.5 704.0,877.1 704.5,878.9 705.0,882.1 705.5,885.3 706.0,887.5 706.5,888.7 707.0,889.1 707.5,888.4 708.0,886.8 708.5,884.2 709.0,881.6 709.5,879.1 710.0,876.5 710.5,874.2 711.0,872.1 711.5,870.3 712.0,868.7 712.5,867.4 713.0,866.3 713.5,865.5 714.0,864.8 714.5,864.7 715.0,865.0 715.5,865.9 716.0,867.2 716.5,869.0 717.0,871.2 717.5,873.8 718.0,876.4 718.5,878.7 719.0,880.8 719.5,882.4 720.0,883.8 720.5,884.8 721.0,885.5 721.5,885.9 722.0,886.6 722.5,887.5 723.0,888.8 723.5,890.3 724.0,892.2 724.5,894.4 725.0,896.8 725.5,899.2 726.0,901.6 726.5,903.7 727.0,905.1 727.5,905.7 728.0,905.7 728.5,904.9 729.0,903.4 729.5,901.2 730.0,898.6 730.5,895.9 731.0,893.3 731.5,890.6 732.0,887.6 732.5,884.3 733.0,880.9 733.5,877.1 734.0,873.2 734.5,868.9 735.0,864.6 735.5,860.8 736.0,857.7 736.5,855.4 737.0,853.8 737.5,852.9 738.0,852.7 738.5,853.2 739.0,853.9 739.5,854.6 740.0,855.3 740.5,856.4 741.0,858.2 741.5,860.5 742.0,863.3 742.5,866.8 743.0,870.8 743.5,875.4 744.0,880.1 744.5,884.8 745.0,889.5 745.5,893.5 746.0,896.7 746.5,899.0 747.0,900.5 747.5,901.2 748.0,901.0 748.5,900.0 749.0,898.8 749.5,897.6 750.0,896.4 750.5,894.7 751.0,892.3 751.5,889.2 752.0,885.5 752.5,881.1 753.0,876.8 753.5,872.9 754.0,869.9 754.5,867.8 755.0,866.8 755.5,866.9 756.0,867.9 756.5,869.2 757.0,870.9 757.5,872.9 758.0,875.3 758.5,878.1 759.0,881.2 759.5,884.7 760.0,888.4 760.5,892.2 761.0,895.5 761.5,897.5 762.0,898.1 762.5,897.6 763.0,895.7 763.5,892.5 764.0,888.1 764.5,882.9 765.0,877.7 765.5,872.7 766.0,868.0 766.5,863.7 767.0,859.7 767.5,856.7 768.0,854.5 768.5,853.3 769.0,852.8 769.5,852.9 770.0,853.5 770.5,854.8 771.0,856.0 771.5,857.1 772.0,857.9 772.5,858.2 773.0,858.0 773.5,857.5 774.0,856.6 774.5,855.9 775.0,855.4 775.5,855.4 776.0,856.0 776.5,857.2 777.0,859.0 777.5,861.2 778.0,863.6 778.5,866.1 779.0,868.8 779.5,871.6 780.0,874.7 780.5,877.9 781.0,881.3 781.5,884.6 782.0,886.7 782.5,887.7 783.0,887.6 783.5,886.4 784.0,884.1 784.5,880.7 785.0,876.4 785.5,872.1 786.0,867.8 786.5,863.5 787.0,860.1 787.5,857.6 788.0,856.0 788.5,855.2 789.0,855.4 789.5,856.4 790.0,858.4 790.5,860.5 791.0,862.9 791.5,865.5 792.0,868.5 792.5,871.7 793.0,875.1 793.5,878.9 794.0,882.7 794.5,886.6 795.0,890.4 795.5,894.3 796.0,898.0 796.5,901.2 797.0,903.7 797.5,905.7 798.0,907.1 798.5,908.0 799.0,908.2 799.5,907.8 800.0,907.3 800.5,906.5 801.0,905.5 801.5,904.4 802.0,903.1 802.5,901.6 803.0,900.1 803.5,898.5 804.0,897.0 804.5,895.5 805.0,894.5 805.5,894.0 806.0,894.0 806.5,894.6 807.0,895.8 807.5,897.5 808.0,899.8 808.5,902.1 809.0,903.8 809.5,904.9 810.0,905.5 810.5,905.5 811.0,904.9 811.5,903.8 812.0,902.1 812.5,901.0 813.0,900.3 813.5,900.2 814.0,900.7 814.5,901.6 815.0,903.1 815.5,904.9 816.0,906.2 816.5,906.7 817.0,906.6 817.5,905.8 818.0,904.4 818.5,902.3 819.0,899.8 819.5,897.3 820.0,894.8 820.5,892.3 821.0,889.7 821.5,887.2 822.0,884.7 822.5,882.2 823.0,879.9 823.5,878.2 824.0,877.0 824.5,876.3 825.0,876.2 825.5,876.6 826.0,877.5 826.5,878.8 827.0,880.5 827.5,882.8 828.0,885.5 828.5,888.8 829.0,892.5 829.5,896.7 830.0,901.4 830.5,905.7 831.0,909.0 831.5,911.3 832.0,912.7 832.5,913.1 833.0,912.5 833.5,910.9 834.0,908.7 834.5,906.5 835.0,904.3 835.5,901.7 836.0,897.9 836.5,893.1 837.0,887.2 837.5,880.9 838.0,874.9 838.5,869.0 839.0,863.8 839.5,859.9 840.0,857.3 840.5,856.0 841.0,855.2 841.5,854.4 842.0,853.8 842.5,853.5 843.0,853.3 843.5,853.5 844.0,853.8 844.5,854.4 845.0,855.2 845.5,856.1 846.0,857.0 846.5,857.8 847.0,858.7 847.5,859.6 848.0,860.5 848.5,861.3 849.0,862.2 849.5,863.1 850.0,864.0 850.5,864.9 851.0,865.9 851.5,866.9 852.0,867.9 852.5,868.9 853.0,870.0 853.5,871.4 854.0,873.0 854.5,874.9 855.0,877.0 855.5,879.4 856.0,882.0 856.5,884.8 857.0,887.6 857.5,889.6 858.0,890.6 858.5,890.3 859.0,888.9 859.5,886.3 860.0,882.5 860.5,877.9 861.0,874.1 861.5,871.8 862.0,870.8 862.5,871.2 863.0,873.0 863.5,876.1 864.0,880.4 864.5,884.7 865.0,888.9 865.5,893.1 866.0,896.7 866.5,899.8 867.0,902.4 867.5,904.4 868.0,905.9 868.5,906.9 869.0,907.5 869.5,908.1 870.0,908.6 870.5,909.2 871.0,909.7 871.5,910.2 872.0,910.6 872.5,911.0 873.0,911.4 873.5,911.7 874.0,912.0 874.5,912.2 875.0,912.5 875.5,912.8 876.0,913.1 876.5,912.2 877.0,910.1 877.5,906.9 878.0,902.5 878.5,897.4 879.0,891.5 879.5,884.8 880.0,878.6 880.5,872.6 881.0,867.1 881.5,862.9 882.0,859.7 882.5,857.4 883.0,856.1 883.5,855.8 884.0,856.5 884.5,858.2 885.0,859.9 885.5,861.5 886.0,862.9 886.5,863.9 887.0,864.6 887.5,865.0 888.0,865.2 888.5,865.0 889.0,864.6 889.5,864.4 890.0,864.8 890.5,865.5 891.0,866.7 891.5,868.4 892.0,870.5 892.5,873.1 893.0,875.8 893.5,878.6 894.0,881.3 894.5,884.0 895.0,886.4 895.5,888.0 896.0,888.7 896.5,888.6 897.0,887.7 897.5,885.9 898.0,883.2 898.5,880.1 899.0,877.0 899.5,873.8 900.0,870.7 900.5,867.8 901.0,865.8 901.5,864.9 902.0,865.0 902.5,866.1 903.0,868.1 903.5,871.2 904.0,875.1 904.5,879.0 905.0,882.8 905.5,886.7 906.0,890.6 906.5,894.5 907.0,898.3 907.5,902.2 908.0,906.1 908.5,909.1 909.0,911.2 909.5,912.5 910.0,912.9 910.5,912.4 911.0,911.1 911.5,908.9 912.0,906.7 912.5,904.5 913.0,902.3 913.5,900.5 914.0,899.2 914.5,898.3 915.0,897.9 915.5,897.9 916.0,898.3 916.5,899.2 917.0,900.0 917.5,900.9 918.0,901.7 918.5,902.6 919.0,903.5 919.5,904.4 920.0,905.3 920.5,906.2 921.0,907.2 921.5,908.3 922.0,909.3 922.5,910.5 923.0,911.6 923.5,912.4 924.0,912.7 924.5,912.6 925.0,912.0 925.5,911.0 926.0,909.6 926.5,907.6 927.0,905.2 927.5,902.4 928.0,899.4 928.5,896.0 929.0,892.3 929.5,888.2 930.0,884.0 930.5,881.0 931.0,879.3 931.5,878.9 932.0,879.7 932.5,881.4 933.0,884.0 933.5,887.7 934.0,891.0 934.5,893.9 935.0,896.6 935.5,899.0 936.0,901.4 936.5,903.8 937.0,906.2 937.5,908.6 938.0,910.4 938.5,911.7 939.0,912.4 939.5,912.5 940.0,912.1 940.5,911.1 941.0,909.5 941.5,907.9 942.0,906.3 942.5,904.6 943.0,902.8 943.5,900.9 944.0,899.0 944.5,897.2 945.0,895.9 945.5,895.1 946.0,895.0 946.5,895.5 947.0,896.6 947.5,898.2 948.0,900.4 948.5,902.5 949.0,904.5 949.5,906.2 950.0,907.5 950.5,908.5 951.0,909.2 951.5,909.5 952.0,909.6 952.5,909.4 953.0,909.2 953.5,909.0 954.0,908.4 954.5,906.9 955.0,904.4 955.5,901.0 956.0,896.6 956.5,891.3 957.0,885.0 957.5,878.2 958.0,872.4 958.5,868.0 959.0,864.9 959.5,863.1 960.0,862.7 960.5,863.6 961.0,865.8 961.5,868.3 962.0,870.8 962.5,873.3 963.0,876.2 963.5,879.4 964.0,883.2 964.5,887.3 965.0,891.9 965.5,897.0 966.0,901.2 966.5,903.6 967.0,904.0 967.5,902.4 968.0,899.3 968.5,894.9 969.0,889.3 969.5,883.5 970.0,878.5 970.5,874.9 971.0,873.1 971.5,872.5 972.0,872.8 972.5,874.1 973.0,876.5 973.5,879.9 974.0,883.4 974.5,887.0 975.0,890.6 975.5,893.7 976.0,896.1 976.5,898.0 977.0,899.2 977.5,899.8 978.0,899.8 978.5,899.2 979.0,898.3 979.5,896.8 980.0,894.6 980.5,891.7 981.0,888.2 981.5,883.9 982.0,879.1 982.5,873.6 983.0,868.8 983.5,864.8 984.0,861.5 984.5,858.9 985.0,857.1 985.5,856.1 986.0,855.8 986.5,855.7 987.0,855.5 987.5,855.4 988.0,855.3 988.5,855.3 989.0,855.6 989.5,856.3 990.0,857.3 990.5,858.7 991.0,860.4 991.5,862.7 992.0,866.0 992.5,870.3 993.0,875.5 993.5,881.6 994.0,888.7 994.5,896.6 995.0,903.4 995.5,908.3 996.0,911.3 996.5,912.3 997.0,911.5 997.5,908.8 998.0,904.1 998.5,899.5 999.0,894.9 999.5,890.2 1000.0,886.5 1000.5,883.7 1001.0,881.8 1001.5,880.9 1002.0,880.9 1002.5,881.7 1003.0,883.6 1003.5,885.4 1004.0,887.4 1004.5,889.5 1005.0,891.8 1005.5,894.2 1006.0,896.7 1006.5,899.3 1007.0,902.0 1007.5,904.7 1008.0,907.2 1008.5,909.4 1009.0,911.3 1009.5,912.9 1010.0,914.1 1010.5,915.1 1011.0,915.7 1011.5,916.2 1012.0,916.7 1012.5,917.2 1013.0,917.4 1013.5,917.2 1014.0,916.6 1014.5,915.4 1015.0,913.9 1015.5,911.9 1016.0,909.4 1016.5,906.8 1017.0,904.4 1017.5,902.4 1018.0,900.6 1018.5,899.0 1019.0,897.8 1019.5,896.8 1020.0,896.1 1020.5,895.4 1021.0,894.8 1021.5,894.1 1022.0,893.4 1022.5,892.7 1023.0,891.9 1023.5,891.2 1024.0,890.5 1024.5,889.8 1025.0,889.0 1025.5,888.2 1026.0,887.5 1026.5,886.8 1027.0,886.3 1027.5,886.3 1028.0,886.5 1028.5,887.1 1029.0,888.1 1029.5,889.7 1030.0,891.9 1030.5,894.5 1031.0,897.3 1031.5,900.5 1032.0,904.0 1032.5,907.8 1033.0,911.3 1033.5,914.1 1034.0,916.3 1034.5,917.9 1035.0,918.8 1035.5,919.1 1036.0,918.8 1036.5,918.3 1037.0,917.7 1037.5,917.2 1038.0,916.6 1038.5,916.1 1039.0,915.5 1039.5,915.1 1040.0,914.7 1040.5,914.5 1041.0,914.3 1041.5,914.3 1042.0,914.3 1042.5,914.4 1043.0,914.6 1043.5,914.7 1044.0,914.8 1044.5,914.5 1045.0,913.8 1045.5,912.6 1046.0,911.0 1046.5,909.0 1047.0,906.5 1047.5,903.6 1048.0,900.8 1048.5,897.9 1049.0,895.0 1049.5,892.8 1050.0,891.4 1050.5,890.6 1051.0,890.6 1051.5,891.3 1052.0,892.8 1052.5,894.3 1053.0,894.9 1053.5,894.5 1054.0,893.0 1054.5,890.6 1055.0,887.2 1055.5,882.8 1056.0,878.0 1056.5,873.2 1057.0,869.3 1057.5,866.2 1058.0,863.9 1058.5,862.5 1059.0,862.0 1059.5,862.3 1060.0,863.4 1060.5,864.6 1061.0,866.0 1061.5,867.4 1062.0,869.0 1062.5,870.7 1063.0,872.5 1063.5,874.4 1064.0,876.4 1064.5,878.4 1065.0,880.4 1065.5,882.3 1066.0,883.9 1066.5,885.2 1067.0,886.3 1067.5,887.1 1068.0,887.5 1068.5,887.8 1069.0,887.8 1069.5,887.9 1070.0,887.9 1070.5,888.0 1071.0,888.0 1071.5,888.0 1072.0,888.7 1072.5,890.1 1073.0,892.3 1073.5,895.3 1074.0,899.0 1074.5,902.6 1075.0,905.8 1075.5,908.1 1076.0,909.3 1076.5,909.4 1077.0,908.3 1077.5,906.2 1078.0,903.8 1078.5,901.4 1079.0,899.0 1079.5,897.3 1080.0,896.3 1080.5,896.2 1081.0,896.9 1081.5,898.3 1082.0,900.6 1082.5,903.2 1083.0,905.1 1083.5,906.1 1084.0,906.4 1084.5,905.8 1085.0,904.3 1085.5,902.1 1086.0,899.5 1086.5,896.9 1087.0,894.3 1087.5,891.7 1088.0,889.1 1088.5,886.6 1089.0,884.7 1089.5,883.7 1090.0,883.4 1090.5,883.8 1091.0,885.0 1091.5,887.0 1092.0,889.8 1092.5,892.5 1093.0,895.2 1093.5,898.0 1094.0,900.7 1094.5,903.0 1095.0,904.7 1095.5,905.8 1096.0,906.3 1096.5,906.2 1097.0,905.5 1097.5,904.2 1098.0,902.8 1098.5,901.1 1099.0,899.2 1099.5,897.0 1100.0,894.6 1100.5,892.0 1101.0,889.1 1101.5,886.0 1102.0,882.9 1102.5,879.9 1103.0,877.0 1103.5,875.1 1104.0,874.1 1104.5,874.0 1105.0,875.0 1105.5,876.8 1106.0,879.7 1106.5,883.2 1107.0,886.8 1107.5,890.4 1108.0,894.0 1108.5,897.6 1109.0,900.5 1109.5,902.7 1110.0,904.2 1110.5,905.1 1111.0,905.3 1111.5,904.8 1112.0,903.7 1112.5,902.5 1113.0,901.4 1113.5,900.2 1114.0,899.0 1114.5,897.6 1115.0,895.5 1115.5,893.0 1116.0,889.9 1116.5,886.3 1117.0,882.1 1117.5,877.4 1118.0,872.8 1118.5,869.2 1119.0,866.8 1119.5,865.5 1120.0,865.3 1120.5,866.3 1121.0,868.4 1121.5,871.4 1122.0,874.4 1122.5,877.4 1123.0,880.4 1123.5,883.5 1124.0,886.5 1124.5,889.5 1125.0,892.5 1125.5,895.3 1126.0,897.4 1126.5,898.7 1127.0,899.2 1127.5,899.0 1128.0,898.0 1128.5,896.2 1129.0,893.7 1129.5,891.3 1130.0,888.9 1130.5,886.5 1131.0,884.1 1131.5,881.6 1132.0,879.2 1132.5,876.8 1133.0,874.4 1133.5,872.0 1134.0,869.5 1134.5,867.5 1135.0,866.0 1135.5,865.1 1136.0,864.8 1136.5,865.1 1137.0,865.9 1137.5,867.4 1138.0,869.1 1138.5,870.8 1139.0,872.5 1139.5,874.1 1140.0,875.8 1140.5,877.5 1141.0,879.2 1141.5,880.9 1142.0,882.6 1142.5,884.3 1143.0,886.0 1143.5,887.7 1144.0,889.4 1144.5,891.0 1145.0,892.7 1145.5,894.3 1146.0,895.8 1146.5,897.3 1147.0,898.8 1147.5,900.3 1148.0,901.7 1148.5,903.2 1149.0,904.6 1149.5,906.1 1150.0,907.5 1150.5,909.0 1151.0,909.9 1151.5,910.3 1152.0,910.2 1152.5,909.5 1153.0,908.8 1153.5,907.9 1154.0,906.8 1154.5,906.2 1155.0,905.9 1155.5,906.0 1156.0,906.5 1156.5,906.7 1157.0,906.0 1157.5,904.5 1158.0,902.1 1158.5,898.9 1159.0,894.9 1159.5,890.1 1160.0,885.3 1160.5,880.8 1161.0,876.8 1161.5,873.2 1162.0,870.0 1162.5,867.3 1163.0,864.9 1163.5,862.5 1164.0,860.2 1164.5,858.4 1165.0,857.0 1165.5,856.1 1166.0,855.5 1166.5,855.4 1167.0,855.7 1167.5,856.3 1168.0,856.8 1168.5,857.4 1169.0,857.9 1169.5,858.5 1170.0,859.1 1170.5,859.6 1171.0,860.2 1171.5,860.7 1172.0,861.3 1172.5,861.9 1173.0,862.4 1173.5,863.0 1174.0,863.6 1174.5,864.2 1175.0,864.8 1175.5,865.4 1176.0,866.1 1176.5,866.8 1177.0,867.6 1177.5,868.3 1178.0,869.1 1178.5,869.9 1179.0,871.0 1179.5,872.9 1180.0,875.6 1180.5,879.1 1181.0,883.4 1181.5,888.6 1182.0,894.3 1182.5,898.7 1183.0,901.5 1183.5,902.5 1184.0,901.9 1184.5,899.6 1185.0,895.6 1185.5,890.3 1186.0,884.9 1186.5,880.0 1187.0,876.2 1187.5,873.4 1188.0,871.7 1188.5,871.1 1189.0,871.6 1189.5,873.1 1190.0,875.3 1190.5,877.5 1191.0,879.7 1191.5,881.9 1192.0,884.2 1192.5,886.4 1193.0,888.7 1193.5,891.1 1194.0,893.5 1194.5,895.9 1195.0,898.3 1195.5,900.8 1196.0,903.2 1196.5,905.6 1197.0,908.1 1197.5,910.5 1198.0,912.2 1198.5,912.8 1199.0,912.6 1199.5,911.3 1200.0,909.1 1200.5,905.9 1201.0,901.7 1201.5,897.3 1202.0,892.9 1202.5,888.6 1203.0,884.2 1203.5,879.8 1204.0,875.7 1204.5,872.7 1205.0,871.0 1205.5,870.5 1206.0,871.1 1206.5,872.9 1207.0,876.0 1207.5,880.0 1208.0,884.0 1208.5,888.0 1209.0,891.9 1209.5,895.9 1210.0,899.9 1210.5,903.1 1211.0,905.3 1211.5,906.5 1212.0,906.8 1212.5,906.0 1213.0,904.2 1213.5,901.5 1214.0,898.5 1214.5,895.6 1215.0,892.6 1215.5,889.7 1216.0,886.8 1216.5,884.0 1217.0,881.2 1217.5,878.4 1218.0,875.7 1218.5,873.0 1219.0,870.3 1219.5,867.6 1220.0,864.9 1220.5,863.2 1221.0,862.8 1221.5,863.6 1222.0,865.6 1222.5,868.9 1223.0,873.4 1223.5,879.2 1224.0,885.2 1224.5,891.2 1225.0,897.2 1225.5,902.6 1226.0,906.8 1226.5,910.0 1227.0,912.0 1227.5,912.9 1228.0,912.7 1228.5,911.4 1229.0,909.6 1229.5,907.8 1230.0,906.1 1230.5,904.3 1231.0,902.4 1231.5,900.5 1232.0,898.4 1232.5,896.3 1233.0,894.2 1233.5,891.9 1234.0,889.6 1234.5,887.4 1235.0,885.4 1235.5,883.7 1236.0,882.5 1236.5,881.5 1237.0,880.9 1237.5,880.7 1238.0,880.8 1238.5,881.0 1239.0,881.2 1239.5,881.4 1240.0,881.7 1240.5,882.3 1241.0,883.0 1241.5,883.9 1242.0,885.0 1242.5,886.3 1243.0,887.7 1243.5,889.2 1244.0,890.8 1244.5,892.3 1245.0,893.8 1245.5,895.0 1246.0,895.6 1246.5,895.8 1247.0,895.4 1247.5,894.5 1248.0,893.1 1248.5,891.2 1249.0,889.1 1249.5,886.9 1250.0,885.2 1250.5,884.1 1251.0,883.5 1251.5,883.5 1252.0,884.1 1252.5,885.2 1253.0,886.9 1253.5,888.6 1254.0,890.4 1254.5,892.2 1255.0,894.0 1255.5,895.7 1256.0,897.5 1256.5,899.3 1257.0,901.1 1257.5,902.9 1258.0,904.1 1258.5,904.6 1259.0,904.1 1259.5,902.9 1260.0,900.8 1260.5,897.9 1261.0,894.1 1261.5,890.0 1262.0,886.0 1262.5,882.1 1263.0,878.4 1263.5,874.8 1264.0,871.3 1264.5,868.0 1265.0,864.8 1265.5,861.6 1266.0,858.5 1266.5,856.0 1267.0,854.1 1267.5,852.8 1268.0,852.0 1268.5,851.9 1269.0,852.3 1269.5,853.3 1270.0,854.2 1270.5,855.2 1271.0,856.5 1271.5,858.1 1272.0,859.9 1272.5,861.9 1273.0,864.3 1273.5,866.9 1274.0,869.6 1274.5,872.4 1275.0,875.2 1275.5,877.9 1276.0,880.7 1276.5,883.4 1277.0,886.1 1277.5,888.8 1278.0,891.5 1278.5,894.2 1279.0,896.9 1279.5,899.6 1280.0,902.2 1280.5,904.9 1281.0,907.6 1281.5,910.3 1282.0,912.2 1282.5,913.3 1283.0,913.6 1283.5,913.2 1284.0,912.0 1284.5,910.0 1285.0,907.2 1285.5,904.4 1286.0,901.8 1286.5,900.0 1287.0,898.9 1287.5,898.6 1288.0,899.0 1288.5,900.2 1289.0,901.4 1289.5,902.6 1290.0,903.3 1290.5,903.2 1291.0,902.6 1291.5,901.3 1292.0,899.6 1292.5,897.8 1293.0,896.3 1293.5,895.3 1294.0,895.0 1294.5,895.3 1295.0,896.3 1295.5,897.8 1296.0,899.9 1296.5,901.9 1297.0,903.4 1297.5,904.6 1298.0,905.3 1298.5,905.6 1299.0,905.4 1299.5,904.9 1300.0,904.4 1300.5,903.8 1301.0,902.9 1301.5,901.6 1302.0,900.1 1302.5,898.2 1303.0,896.1 1303.5,893.7 1304.0,891.0 1304.5,888.4 1305.0,885.8 1305.5,883.5 1306.0,882.3 1306.5,882.0 1307.0,882.7 1307.5,884.4 1308.0,887.1 1308.5,890.8 1309.0,895.0 1309.5,899.3 1310.0,903.6 1310.5,907.3 1311.0,909.6 1311.5,910.6 1312.0,910.1 1312.5,908.3 1313.0,905.1 1313.5,900.6 1314.0,895.2 1314.5,889.8 1315.0,884.4 1315.5,879.0 1316.0,873.7 1316.5,869.4 1317.0,866.2 1317.5,864.1 1318.0,863.2 1318.5,863.3 1319.0,864.6 1319.5,867.0 1320.0,868.9 1320.5,870.3 1321.0,871.0 1321.5,871.1 1322.0,870.6 1322.5,869.4 1323.0,867.6 1323.5,865.6 1324.0,864.4 1324.5,864.0 1325.0,864.5 1325.5,865.8 1326.0,868.0 1326.5,871.0 1327.0,874.8 1327.5,878.7 1328.0,882.6 1328.5,886.4 1329.0,890.3 1329.5,894.2 1330.0,898.0 1330.5,901.7 1331.0,904.4 1331.5,906.0 1332.0,906.7 1332.5,906.4 1333.0,905.1 1333.5,902.8 1334.0,899.7 1334.5,896.6 1335.0,893.5 1335.5,890.4 1336.0,887.3 1336.5,884.2 1337.0,881.1 1337.5,878.1 1338.0,875.1 1338.5,873.1 1339.0,871.9 1339.5,871.6 1340.0,872.2 1340.5,873.6 1341.0,876.0 1341.5,879.0 1342.0,882.0 1342.5,885.0 1343.0,888.0 1343.5,891.0 1344.0,893.3 1344.5,894.7 1345.0,895.3 1345.5,895.2 1346.0,894.2 1346.5,892.4 1347.0,889.9 1347.5,887.3 1348.0,884.9 1348.5,883.1 1349.0,882.1 1349.5,881.6 1350.0,881.9 1350.5,882.8 1351.0,884.4 1351.5,886.5 1352.0,888.7 1352.5,890.8 1353.0,892.9 1353.5,895.1 1354.0,897.2 1354.5,899.3 1355.0,901.3 1355.5,902.8 1356.0,903.9 1356.5,904.5 1357.0,904.8 1357.5,904.5 1358.0,903.9 1358.5,902.9 1359.0,902.0 1359.5,900.9 1360.0,899.5 1360.5,897.7 1361.0,895.6 1361.5,893.1 1362.0,890.3 1362.5,887.2 1363.0,884.0 1363.5,880.7 1364.0,877.4 1364.5,874.2 1365.0,871.4 1365.5,869.5 1366.0,868.7 1366.5,868.9 1367.0,870.1 1367.5,872.3 1368.0,875.5 1368.5,879.4 1369.0,883.2 1369.5,887.0 1370.0,890.9 1370.5,894.7 1371.0,898.5 1371.5,901.5 1372.0,903.3 1372.5,903.9 1373.0,903.5 1373.5,901.9 1374.0,899.1 1374.5,895.3 1375.0,891.2 1375.5,887.1 1376.0,883.0 1376.5,878.9 1377.0,874.8 1377.5,870.7 1378.0,866.7 1378.5,863.3 1379.0,860.7 1379.5,858.8 1380.0,857.7 1380.5,857.7 1381.0,858.9 1381.5,861.3 1382.0,864.0 1382.5,867.1 1383.0,870.7 1383.5,874.6 1384.0,878.2 1384.5,880.9 1385.0,882.6 1385.5,883.3 1386.0,883.1 1386.5,882.2 1387.0,881.0 1387.5,879.7 1388.0,879.0 1388.5,878.9 1389.0,879.5 1389.5,881.0 1390.0,883.1 1390.5,885.5 1391.0,888.3 1391.5,891.3 1392.0,894.7 1392.5,898.2 1393.0,901.8 1393.5,904.7 1394.0,906.6 1394.5,907.4 1395.0,907.2 1395.5,905.9 1396.0,903.6 1396.5,900.2 1397.0,896.4 1397.5,892.6 1398.0,888.8 1398.5,885.0 1399.0,881.5 1399.5,878.7 1400.0,876.8 1400.5,875.5 1401.0,875.1 1401.5,875.2 1402.0,875.5 1402.5,875.8 1403.0,875.6 1403.5,874.9 1404.0,873.7 1404.5,872.0 1405.0,870.0 1405.5,868.1 1406.0,866.4 1406.5,865.5 1407.0,865.1 1407.5,865.3 1408.0,866.2 1408.5,867.7 1409.0,869.8 1409.5,872.2 1410.0,874.5 1410.5,876.9 1411.0,879.3 1411.5,881.6 1412.0,884.0 1412.5,886.3 1413.0,887.9 1413.5,888.4 1414.0,888.0 1414.5,886.5 1415.0,884.0 1415.5,880.4 1416.0,875.9 1416.5,871.2 1417.0,866.4 1417.5,862.1 1418.0,858.8 1418.5,856.6 1419.0,855.4 1419.5,855.2 1420.0,856.0 1420.5,857.9 1421.0,860.4 1421.5,862.7 1422.0,864.5 1422.5,865.7 1423.0,866.5 1423.5,866.7 1424.0,866.7 1424.5,866.7 1425.0,867.1 1425.5,868.2 1426.0,869.8 1426.5,872.1 1427.0,875.1 1427.5,878.4 1428.0,881.7 1428.5,885.0 1429.0,888.1 1429.5,890.0 1430.0,890.8 1430.5,890.4 1431.0,888.9 1431.5,886.2 1432.0,882.4 1432.5,877.6 1433.0,872.8 1433.5,868.1 1434.0,863.5 1434.5,859.7 1435.0,856.8 1435.5,854.7 1436.0,853.5 1436.5,853.1 1437.0,853.5 1437.5,854.6 1438.0,855.7 1438.5,856.7 1439.0,857.8 1439.5,858.9 1440.0,860.0 1440.5,861.1 1441.0,862.2 1441.5,863.4 1442.0,865.3 1442.5,867.9 1443.0,871.1 1443.5,875.1 1444.0,879.7 1444.5,885.0 1445.0,890.8 1445.5,896.7 1446.0,902.1 1446.5,906.4 1447.0,909.7 1447.5,912.0 1448.0,913.2 1448.5,913.3 1449.0,912.4 1449.5,910.8 1450.0,909.2 1450.5,907.7 1451.0,906.2 1451.5,905.2 1452.0,904.5 1452.5,904.2 1453.0,904.2 1453.5,904.7 1454.0,905.3 1454.5,905.7 1455.0,905.4 1455.5,904.5 1456.0,903.1 1456.5,901.1 1457.0,898.5 1457.5,895.4 1458.0,892.3 1458.5,889.3 1459.0,886.4 1459.5,884.3 1460.0,883.1 1460.5,882.7 1461.0,883.2 1461.5,884.5 1462.0,886.6 1462.5,888.8 1463.0,890.0 1463.5,890.4 1464.0,889.9 1464.5,888.5 1465.0,886.2 1465.5,883.1 1466.0,879.8 1466.5,876.4 1467.0,873.1 1467.5,870.6 1468.0,869.2 1468.5,868.8 1469.0,869.5 1469.5,871.2 1470.0,874.0 1470.5,877.8 1471.0,881.8 1471.5,885.9 1472.0,889.9 1472.5,893.9 1473.0,897.3 1473.5,899.7 1474.0,901.1 1474.5,901.5 1475.0,900.9 1475.5,899.2 1476.0,896.6 1476.5,893.5 1477.0,890.5 1477.5,888.1 1478.0,886.5 1478.5,885.7 1479.0,885.8 1479.5,886.7 1480.0,888.4 1480.5,890.9 1481.0,893.6 1481.5,896.3 1482.0,898.9 1482.5,901.6 1483.0,904.3 1483.5,907.0 1484.0,909.7 1484.5,911.6 1485.0,912.8 1485.5,913.3 1486.0,913.0 1486.5,912.0 1487.0,910.3 1487.5,907.8 1488.0,905.4 1488.5,902.9 1489.0,900.4 1489.5,898.0 1490.0,895.5 1490.5,893.0 1491.0,890.6 1491.5,888.1 1492.0,886.3 1492.5,885.1 1493.0,884.6 1493.5,884.8 1494.0,885.6 1494.5,887.1 1495.0,889.2 1495.5,891.4 1496.0,893.4 1496.5,894.5 1497.0,894.9 1497.5,894.5 1498.0,893.2 1498.5,891.2 1499.0,888.4 1499.5,884.9 1500.0,881.4 1500.5,877.9 1501.0,874.4 1501.5,870.9 1502.0,867.4 1502.5,864.8 1503.0,863.0 1503.5,862.3 1504.0,862.6 1504.5,863.8 1505.0,866.0 1505.5,869.3 1506.0,872.7 1506.5,876.1 1507.0,878.6 1507.5,880.3 1508.0,881.2 1508.5,881.2 1509.0,880.4 1509.5,878.7 1510.0,876.7 1510.5,875.6 1511.0,875.5 1511.5,876.3 1512.0,878.0 1512.5,880.6 1513.0,884.2 1513.5,888.1 1514.0,892.1 1514.5,895.3 1515.0,897.8 1515.5,899.5 1516.0,900.5 1516.5,900.8 1517.0,900.4 1517.5,899.2 1518.0,898.0 1518.5,896.8 1519.0,895.7 1519.5,894.5 1520.0,893.3 1520.5,892.1 1521.0,890.9 1521.5,889.8 1522.0,888.6 1522.5,887.4 1523.0,886.2 1523.5,885.0 1524.0,883.9 1524.5,883.2 1525.0,883.3 1525.5,884.0 1526.0,885.3 1526.5,887.4 1527.0,890.1 1527.5,893.4 1528.0,896.9 1528.5,900.5 1529.0,904.0 1529.5,906.6 1530.0,908.2 1530.5,908.7 1531.0,908.2 1531.5,906.6 1532.0,903.9 1532.5,900.1 1533.0,896.2 1533.5,892.2 1534.0,888.2 1534.5,884.3 1535.0,880.3 1535.5,876.3 1536.0,872.4 1536.5,868.4 1537.0,865.3 1537.5,863.2 1538.0,862.2 1538.5,862.2 1539.0,863.3 1539.5,865.4 1540.0,868.5 1540.5,871.6 1541.0,873.7 1541.5,874.9 1542.0,875.3 1542.5,874.8 1543.0,873.3 1543.5,871.0 1544.0,868.2 1544.5,865.4 1545.0,863.1 1545.5,861.7 1546.0,861.3 1546.5,861.9 1547.0,863.3 1547.5,865.8 1548.0,869.1 1548.5,872.8 1549.0,876.5 1549.5,880.3 1550.0,884.0 1550.5,887.7 1551.0,891.4 1551.5,894.2 1552.0,896.1 1552.5,897.1 1553.0,897.2 1553.5,896.3 1554.0,894.6 1554.5,891.9 1555.0,889.2 1555.5,886.5 1556.0,883.8 1556.5,881.1 1557.0,878.5 1557.5,876.0 1558.0,874.0 1558.5,872.4 1559.0,871.4 1559.5,870.9 1560.0,870.8 1560.5,871.2 1561.0,871.9 1561.5,872.6 1562.0,873.3 1562.5,874.1 1563.0,874.8 1563.5,875.5 1564.0,875.7 1564.5,875.3 1565.0,874.9 1565.5,875.0 1566.0,875.7 1566.5,876.8 1567.0,878.6 1567.5,881.3 1568.0,884.9 1568.5,887.7 1569.0,889.3 1569.5,889.5 1570.0,888.5 1570.5,886.1 1571.0,882.4 1571.5,877.6 1572.0,872.8 1572.5,868.4 1573.0,864.9 1573.5,862.2 1574.0,860.4 1574.5,859.4 1575.0,859.4 1575.5,860.2 1576.0,861.5 1576.5,862.8 1577.0,864.1 1577.5,865.3 1578.0,866.2 1578.5,866.8 1579.0,867.1 1579.5,867.1 1580.0,866.9 1580.5,866.3 1581.0,865.6 1581.5,864.8 1582.0,864.1 1582.5,863.4 1583.0,862.6 1583.5,861.9 1584.0,861.2 1584.5,860.4 1585.0,859.7 1585.5,859.1 1586.0,859.0 1586.5,859.5 1587.0,860.6 1587.5,862.2 1588.0,864.5 1588.5,867.2 1589.0,870.5 1589.5,873.7 1590.0,876.9 1590.5,880.2 1591.0,883.4 1591.5,886.6 1592.0,889.7 1592.5,892.4 1593.0,894.9 1593.5,897.1 1594.0,899.0 1594.5,900.6 1595.0,902.0 1595.5,903.2 1596.0,904.4 1596.5,905.3 1597.0,905.9 1597.5,906.1 1598.0,905.9 1598.5,905.4 1599.0,904.4 1599.5,903.2 1600.0,901.8 1600.5,900.5 1601.0,898.9 1601.5,897.0 1602.0,895.0 1602.5,892.7 1603.0,890.1 1603.5,887.4 1604.0,884.4 1604.5,881.6 1605.0,878.9 1605.5,876.7 1606.0,875.5 1606.5,875.3 1607.0,876.0 1607.5,877.7 1608.0,880.2 1608.5,883.5 1609.0,887.3 1609.5,891.1 1610.0,894.2 1610.5,896.2 1611.0,897.1 1611.5,896.9 1612.0,895.6 1612.5,893.2 1613.0,889.9 1613.5,886.6 1614.0,883.6 1614.5,881.1 1615.0,879.4 1615.5,878.6 1616.0,878.8 1616.5,879.7 1617.0,881.1 1617.5,883.1 1618.0,885.8 1618.5,888.5 1619.0,891.2 1619.5,893.9 1620.0,896.6 1620.5,899.2 1621.0,901.2 1621.5,902.6 1622.0,903.4 1622.5,903.5 1623.0,903.1 1623.5,902.0 1624.0,900.4 1624.5,899.0 1625.0,898.0 1625.5,897.3 1626.0,897.0 1626.5,897.1 1627.0,897.6 1627.5,898.4 1628.0,899.3 1628.5,899.8 1629.0,899.9 1629.5,899.6 1630.0,899.0 1630.5,898.0 1631.0,896.7 1631.5,895.2 1632.0,893.6 1632.5,892.1 1633.0,890.6 1633.5,890.1 1634.0,890.5 1634.5,891.8 1635.0,894.1 1635.5,897.2 1636.0,900.5 1636.5,904.0 1637.0,906.6 1637.5,908.5 1638.0,909.6 1638.5,910.0 1639.0,909.2 1639.5,907.4 1640.0,904.5 1640.5,900.4 1641.0,895.5 1641.5,890.2 1642.0,884.5 1642.5,878.8 1643.0,873.7 1643.5,869.9 1644.0,867.6 1644.5,866.7 1645.0,866.7 1645.5,867.7 1646.0,869.6 1646.5,872.4 1647.0,875.6 1647.5,878.8 1648.0,882.0 1648.5,885.1 1649.0,888.3 1649.5,891.4 1650.0,894.5 1650.5,897.7 1651.0,900.2 1651.5,902.2 1652.0,903.7 1652.5,904.6 1653.0,905.0 1653.5,904.9 1654.0,904.2 1654.5,903.5 1655.0,903.1 1655.5,902.9 1656.0,903.0 1656.5,903.2 1657.0,903.6 1657.5,904.3 1658.0,905.1 1658.5,905.9 1659.0,906.7 1659.5,907.4 1660.0,907.8 1660.5,908.0 1661.0,908.0 1661.5,907.7 1662.0,907.2 1662.5,906.5 1663.0,905.7 1663.5,904.4 1664.0,902.4 1664.5,899.9 1665.0,896.7 1665.5,892.9 1666.0,888.4 1666.5,884.0 1667.0,880.1 1667.5,876.8 1668.0,874.2 1668.5,872.2 1669.0,870.8 1669.5,870.1 1670.0,869.4 1670.5,868.6 1671.0,867.9 1671.5,867.2 1672.0,866.5 1672.5,865.7 1673.0,865.0 1673.5,864.3 1674.0,863.8 1674.5,863.7 1675.0,864.0 1675.5,864.7 1676.0,865.7 1676.5,867.2 1677.0,869.1 1677.5,871.1 1678.0,873.1 1678.5,875.1 1679.0,877.1 1679.5,879.1 1680.0,880.7 1680.5,881.5 1681.0,881.8 1681.5,881.4 1682.0,880.4 1682.5,878.8 1683.0,876.6 1683.5,874.2 1684.0,871.8 1684.5,869.6 1685.0,868.0 1685.5,867.2 1686.0,867.0 1686.5,867.5 1687.0,868.7 1687.5,870.6 1688.0,873.0 1688.5,875.2 1689.0,876.8 1689.5,877.9 1690.0,878.5 1690.5,878.5 1691.0,878.0 1691.5,877.3 1692.0,876.8 1692.5,877.0 1693.0,877.8 1693.5,879.2 1694.0,881.3 1694.5,883.9 1695.0,886.8 1695.5,889.7 1696.0,892.6 1696.5,895.5 1697.0,898.4 1697.5,901.2 1698.0,904.1 1698.5,905.8 1699.0,906.2 1699.5,905.4 1700.0,903.4 1700.5,900.1 1701.0,895.6 1701.5,889.8 1702.0,884.1 1702.5,878.3 1703.0,872.7 1703.5,867.8 1704.0,863.7 1704.5,860.2 1705.0,857.5 1705.5,855.5 1706.0,854.2 1706.5,853.6 1707.0,853.4 1707.5,853.7 1708.0,854.2 1708.5,855.2 1709.0,856.6 1709.5,858.3 1710.0,860.3 1710.5,862.3 1711.0,863.8 1711.5,864.7 1712.0,864.9 1712.5,864.6 1713.0,863.7 1713.5,862.2 1714.0,860.7 1714.5,859.8 1715.0,859.5 1715.5,859.9 1716.0,861.0 1716.5,862.8 1717.0,865.2 1717.5,867.7 1718.0,870.0 1718.5,871.7 1719.0,872.9 1719.5,873.5 1720.0,873.5 1720.5,873.0 1721.0,872.1 1721.5,871.4 1722.0,871.3 1722.5,871.9 1723.0,873.1 1723.5,874.9 1724.0,877.4 1724.5,880.3 1725.0,882.7 1725.5,884.4 1726.0,885.5 1726.5,885.8 1727.0,885.4 1727.5,884.3 1728.0,882.5 1728.5,880.6 1729.0,878.8 1729.5,877.2 1730.0,875.7 1730.5,874.3 1731.0,873.2 1731.5,872.1 1732.0,871.2 1732.5,870.6 1733.0,870.3 1733.5,870.5 1734.0,871.0 1734.5,871.9 1735.0,873.2 1735.5,874.8 1736.0,876.3 1736.5,877.2 1737.0,877.5 1737.5,877.3 1738.0,876.5 1738.5,875.2 1739.0,873.3 1739.5,871.1 1740.0,868.9 1740.5,867.2 1741.0,866.4 1741.5,866.5 1742.0,867.5 1742.5,869.4 1743.0,872.2 1743.5,875.9 1744.0,879.9 1744.5,883.9 1745.0,887.9 1745.5,891.9 1746.0,895.5 1746.5,898.7 1747.0,901.4 1747.5,903.7 1748.0,905.5 1748.5,907.0 1749.0,908.0 1749.5,909.0 1750.0,909.9 1750.5,910.9 1751.0,911.8 1751.5,912.3 1752.0,912.3 1752.5,911.9 1753.0,911.0 1753.5,909.7 1754.0,907.9 1754.5,905.7 1755.0,903.3 1755.5,900.8 1756.0,898.2 1756.5,895.4 1757.0,892.4 1757.5,889.3 1758.0,886.1 1758.5,882.8 1759.0,879.6 1759.5,876.4 1760.0,873.2 1760.5,870.0 1761.0,866.8 1761.5,864.1 1762.0,862.2 1762.5,861.1 1763.0,860.6 1763.5,860.8 1764.0,861.8 1764.5,863.5" stroke="#ff0000" stroke-width="1" fill="none" shape-rendering="crispEdges"/>
<rect x="8" y="860" width="20" height="30" fill="#fff"/>
<text x="8.5" y="870.5" font-size="12" fill="#000">%K</text>
<text x="8.5" y="885.5" font-size="12" fill="#ff0000">%D</text>
<rect x="5.5" y="844.5" width="47" height="14" fill="#fff" stroke="#000" stroke-width="1"/>
<text x="8.5" y="855.8" font-size="12" fill="#000">Sto(9/5)</text>
<rect x="55.5" y="845.5" width="12" height="12" fill="#fff" stroke="#000" stroke-width="1"/>
<path d="M57.5,851.5H64.5 M61,848V855" stroke="#000" stroke-width="1.8"/>
<path d="M1837.5,0V948 M0,839.5H1916 M0,932.5H1916" stroke="#b4b4b4" stroke-width="1" fill="none" shape-rendering="crispEdges"/>
<path d="M67.5,933V947 M104.5,933V947 M141.5,933V947 M178.5,933V947 M216.5,933V947 M252.5,933V947 M289.5,933V947 M340.5,933V947 M377.5,933V947 M415.5,933V947 M453.5,933V947 M490.5,933V947 M526.5,933V947 M564.5,933V947 M601.5,933V947 M639.5,933V947 M676.5,933V947 M710.5,933V947 M746.5,933V947 M784.5,933V947 M821.5,933V947 M859.5,933V947 M895.5,933V947 M934.5,933V947 M969.5,933V947 M1007.5,933V947 M1044.5,933V947 M1082.5,933V947 M1119.5,933V947 M1157.5,933V947 M1192.5,933V947 M1229.5,933V947 M1268.5,933V947 M1305.5,933V947 M1342.5,933V947 M1379.5,933V947 M1417.5,933V947 M1454.5,933V947 M1490.5,933V947 M1529.5,933V947 M1567.5,933V947 M1603.5,933V947 M1640.5,933V947 M1677.5,933V947 M1714.5,933V947 M1752.5,933V947 M1823.5,933V947" stroke="#a0a0a0" stroke-width="1" fill="none" shape-rendering="crispEdges"/>
<path d="M1834,45.5H1841 M1834,87.5H1841 M1834,130.5H1841 M1834,172.5H1841 M1834,214.5H1841 M1834,257.5H1841 M1834,299.5H1841 M1834,341.5H1841 M1834,383.5H1841 M1834,426.5H1841 M1834,468.5H1841 M1834,510.5H1841 M1834,552.5H1841 M1834,595.5H1841 M1834,637.5H1841 M1834,679.5H1841 M1834,721.5H1841 M1834,764.5H1841 M1834,806.5H1841 M1834,885.5H1841 M1834,906.5H1841 M1834,928.5H1841" stroke="#a0a0a0" stroke-width="1" fill="none" shape-rendering="crispEdges"/>
<text x="1843" y="49.5" font-size="12" fill="#000">4750.00</text>
<text x="1843" y="91.5" font-size="12" fill="#000">4500.00</text>
<text x="1843" y="134.5" font-size="12" fill="#000">4250.00</text>
<text x="1843" y="176.5" font-size="12" fill="#000">4000.00</text>
<text x="1843" y="218.5" font-size="12" fill="#000">3750.00</text>
<text x="1843" y="261.5" font-size="12" fill="#000">3500.00</text>
<text x="1843" y="303.5" font-size="12" fill="#000">3250.00</text>
<text x="1843" y="345.5" font-size="12" fill="#000">3000.00</text>
<text x="1843" y="387.5" font-size="12" fill="#000">2750.00</text>
<text x="1843" y="430.5" font-size="12" fill="#000">2500.00</text>
<text x="1843" y="472.5" font-size="12" fill="#000">2250.00</text>
<text x="1843" y="514.5" font-size="12" fill="#000">2000.00</text>
<text x="1843" y="556.5" font-size="12" fill="#000">1750.00</text>
<text x="1843" y="599.5" font-size="12" fill="#000">1500.00</text>
<text x="1843" y="641.5" font-size="12" fill="#000">1250.00</text>
<text x="1843" y="683.5" font-size="12" fill="#000">1000.00</text>
<text x="1843" y="725.5" font-size="12" fill="#000">750.00</text>
<text x="1843" y="768.5" font-size="12" fill="#000">500.00</text>
<text x="1843" y="810.5" font-size="12" fill="#000">250.00</text>
<rect x="1838" y="743" width="77" height="14" fill="#0000ff"/>
<path d="M1838,750.5H1842" stroke="#fff" stroke-width="1"/>
<text x="1843" y="754.5" font-size="12" fill="#fff">579.95</text>
<text x="1843" y="889.5" font-size="12" fill="#000">50.00</text>
<text x="1843" y="911" font-size="12" fill="#000">25.000</text>
<rect x="1838" y="851" width="77" height="14" fill="#ff0000"/>
<text x="1843" y="862.5" font-size="12" fill="#fff">77.43</text>
<rect x="1838" y="867" width="77" height="14" fill="#000"/>
<text x="1843" y="878.5" font-size="12" fill="#fff">67.49</text>
<path d="M1838,858.5H1842 M1838,874.5H1842" stroke="#fff" stroke-width="1"/>
<text x="66" y="944" font-size="11" text-anchor="end" fill="#000">11</text>
<text x="69" y="944" font-size="11" fill="#000">17</text>
<text x="103" y="944" font-size="11" text-anchor="end" fill="#000">01</text>
<text x="106" y="944" font-size="11" fill="#000">18</text>
<text x="140" y="944" font-size="11" text-anchor="end" fill="#000">03</text>
<text x="143" y="944" font-size="11" fill="#000">18</text>
<text x="177" y="944" font-size="11" text-anchor="end" fill="#000">05</text>
<text x="180" y="944" font-size="11" fill="#000">18</text>
<text x="215" y="944" font-size="11" text-anchor="end" fill="#000">07</text>
<text x="218" y="944" font-size="11" fill="#000">18</text>
<text x="251" y="944" font-size="11" text-anchor="end" fill="#000">09</text>
<text x="254" y="944" font-size="11" fill="#000">18</text>
<text x="288" y="944" font-size="11" text-anchor="end" fill="#000">11</text>
<text x="291" y="944" font-size="11" fill="#000">18</text>
<text x="339" y="944" font-size="11" text-anchor="end" fill="#000">05</text>
<text x="342" y="944" font-size="11" fill="#000">19</text>
<text x="376" y="944" font-size="11" text-anchor="end" fill="#000">07</text>
<text x="379" y="944" font-size="11" fill="#000">19</text>
<text x="414" y="944" font-size="11" text-anchor="end" fill="#000">09</text>
<text x="417" y="944" font-size="11" fill="#000">19</text>
<text x="452" y="944" font-size="11" text-anchor="end" fill="#000">11</text>
<text x="455" y="944" font-size="11" fill="#000">19</text>
<text x="489" y="944" font-size="11" text-anchor="end" fill="#000">01</text>
<text x="492" y="944" font-size="11" fill="#000">20</text>
<text x="525" y="944" font-size="11" text-anchor="end" fill="#000">03</text>
<text x="528" y="944" font-size="11" fill="#000">20</text>
<text x="563" y="944" font-size="11" text-anchor="end" fill="#000">05</text>
<text x="566" y="944" font-size="11" fill="#000">20</text>
<text x="600" y="944" font-size="11" text-anchor="end" fill="#000">07</text>
<text x="603" y="944" font-size="11" fill="#000">20</text>
<text x="638" y="944" font-size="11" text-anchor="end" fill="#000">09</text>
<text x="641" y="944" font-size="11" fill="#000">20</text>
<text x="675" y="944" font-size="11" text-anchor="end" fill="#000">11</text>
<text x="678" y="944" font-size="11" fill="#000">20</text>
<text x="709" y="944" font-size="11" text-anchor="end" fill="#000">01</text>
<text x="712" y="944" font-size="11" fill="#000">21</text>
<text x="745" y="944" font-size="11" text-anchor="end" fill="#000">03</text>
<text x="748" y="944" font-size="11" fill="#000">21</text>
<text x="783" y="944" font-size="11" text-anchor="end" fill="#000">05</text>
<text x="786" y="944" font-size="11" fill="#000">21</text>
<text x="820" y="944" font-size="11" text-anchor="end" fill="#000">07</text>
<text x="823" y="944" font-size="11" fill="#000">21</text>
<text x="858" y="944" font-size="11" text-anchor="end" fill="#000">09</text>
<text x="861" y="944" font-size="11" fill="#000">21</text>
<text x="894" y="944" font-size="11" text-anchor="end" fill="#000">11</text>
<text x="897" y="944" font-size="11" fill="#000">21</text>
<text x="933" y="944" font-size="11" text-anchor="end" fill="#000">01</text>
<text x="936" y="944" font-size="11" fill="#000">22</text>
<text x="968" y="944" font-size="11" text-anchor="end" fill="#000">03</text>
<text x="971" y="944" font-size="11" fill="#000">22</text>
<text x="1006" y="944" font-size="11" text-anchor="end" fill="#000">05</text>
<text x="1009" y="944" font-size="11" fill="#000">22</text>
<text x="1043" y="944" font-size="11" text-anchor="end" fill="#000">07</text>
<text x="1046" y="944" font-size="11" fill="#000">22</text>
<text x="1081" y="944" font-size="11" text-anchor="end" fill="#000">09</text>
<text x="1084" y="944" font-size="11" fill="#000">22</text>
<text x="1118" y="944" font-size="11" text-anchor="end" fill="#000">11</text>
<text x="1121" y="944" font-size="11" fill="#000">22</text>
<text x="1156" y="944" font-size="11" text-anchor="end" fill="#000">01</text>
<text x="1159" y="944" font-size="11" fill="#000">23</text>
<text x="1191" y="944" font-size="11" text-anchor="end" fill="#000">03</text>
<text x="1194" y="944" font-size="11" fill="#000">23</text>
<text x="1228" y="944" font-size="11" text-anchor="end" fill="#000">05</text>
<text x="1231" y="944" font-size="11" fill="#000">23</text>
<text x="1267" y="944" font-size="11" text-anchor="end" fill="#000">07</text>
<text x="1270" y="944" font-size="11" fill="#000">23</text>
<text x="1304" y="944" font-size="11" text-anchor="end" fill="#000">09</text>
<text x="1307" y="944" font-size="11" fill="#000">23</text>
<text x="1341" y="944" font-size="11" text-anchor="end" fill="#000">11</text>
<text x="1344" y="944" font-size="11" fill="#000">23</text>
<text x="1378" y="944" font-size="11" text-anchor="end" fill="#000">01</text>
<text x="1381" y="944" font-size="11" fill="#000">24</text>
<text x="1416" y="944" font-size="11" text-anchor="end" fill="#000">03</text>
<text x="1419" y="944" font-size="11" fill="#000">24</text>
<text x="1453" y="944" font-size="11" text-anchor="end" fill="#000">05</text>
<text x="1456" y="944" font-size="11" fill="#000">24</text>
<text x="1489" y="944" font-size="11" text-anchor="end" fill="#000">07</text>
<text x="1492" y="944" font-size="11" fill="#000">24</text>
<text x="1528" y="944" font-size="11" text-anchor="end" fill="#000">09</text>
<text x="1531" y="944" font-size="11" fill="#000">24</text>
<text x="1566" y="944" font-size="11" text-anchor="end" fill="#000">11</text>
<text x="1569" y="944" font-size="11" fill="#000">24</text>
<text x="1602" y="944" font-size="11" text-anchor="end" fill="#000">01</text>
<text x="1605" y="944" font-size="11" fill="#000">25</text>
<text x="1639" y="944" font-size="11" text-anchor="end" fill="#000">03</text>
<text x="1642" y="944" font-size="11" fill="#000">25</text>
<text x="1676" y="944" font-size="11" text-anchor="end" fill="#000">05</text>
<text x="1679" y="944" font-size="11" fill="#000">25</text>
<text x="1713" y="944" font-size="11" text-anchor="end" fill="#000">07</text>
<text x="1716" y="944" font-size="11" fill="#000">25</text>
<text x="1751" y="944" font-size="11" text-anchor="end" fill="#000">09</text>
<text x="1754" y="944" font-size="11" fill="#000">25</text>
<text x="1826" y="944" font-size="11">-</text>
<path d="M1915.5,0V948 M0,947.5H1916 M0,0.5H1916 M0.5,0V111 M0.5,835V948" stroke="#000" stroke-width="1" fill="none" shape-rendering="crispEdges"/>
<rect x="1" y="1" width="68" height="16" fill="#fff"/>
<text x="6" y="13" font-size="12">09.10.25</text>
<text x="240" y="66.5" font-size="14" font-weight="bold" textLength="140" lengthAdjust="spacingAndGlyphs">BITCOIN-CASH / USD</text>
<text x="477" y="67" font-size="14" style="font-family:'Liberation Serif',serif" textLength="1103" lengthAdjust="spacingAndGlyphs">Haftungsausschluss für Inhalte: Alle Trendkanäle bzw. andere Linien, oder Grafiken hier sind keine Empfehlungen, oder Beratung, sondern die zeigen lediglich meine eigene Einschätzung. Alle Chartdaten sind ohne Gewähr.&#160; www.wikifolio.com/de/de/p/cyberwaehrungen</text>
<path d="M1760,1L1768,1L1764,5Z" fill="#22bb22"/>
<rect x="1906.5" y="17.5" width="8" height="8" fill="#fff" stroke="#a0a0a0" stroke-width="1"/>
<path d="M1908,21.5H1913" stroke="#a0a0a0" stroke-width="1"/>
</svg></body></html>
